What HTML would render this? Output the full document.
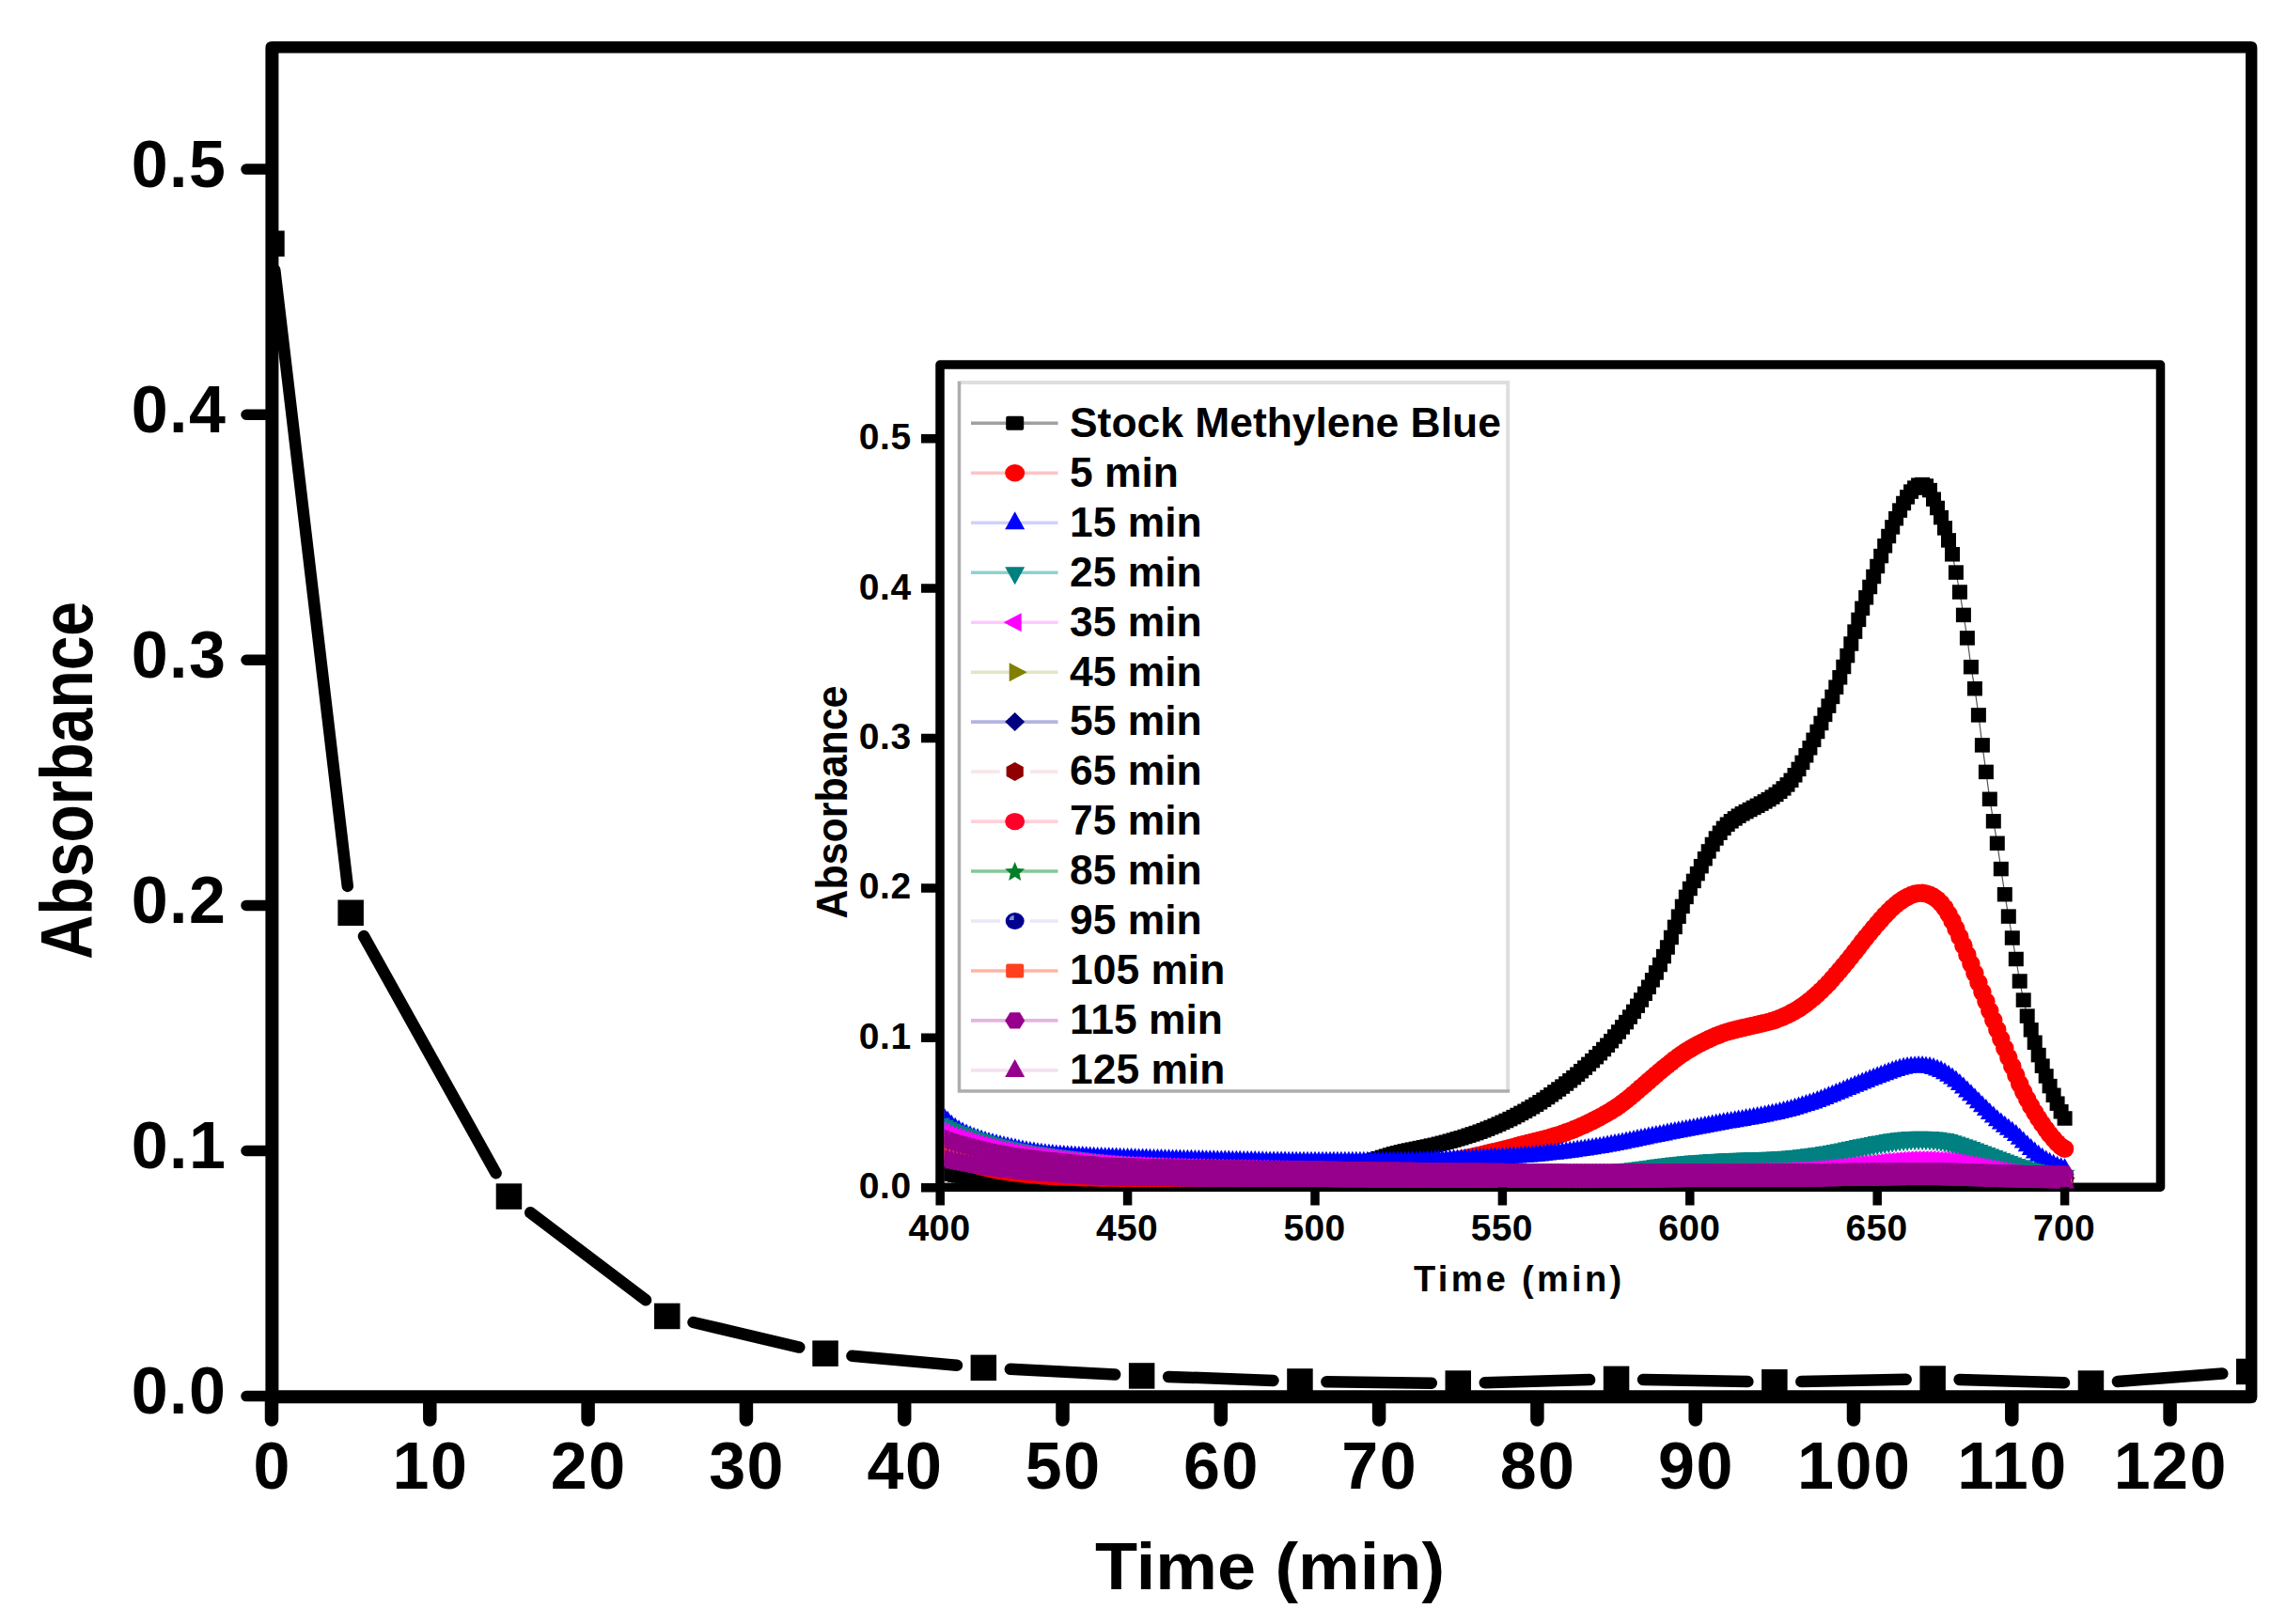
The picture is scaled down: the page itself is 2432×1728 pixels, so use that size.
<!DOCTYPE html>
<html><head><meta charset="utf-8"><title>Absorbance vs Time</title>
<style>html,body{margin:0;padding:0;background:#fff}svg text{font-family:"Liberation Sans",Arial,Helvetica,sans-serif;font-weight:bold;fill:#000}</style></head>
<body>
<svg width="2432" height="1728" viewBox="0 0 2432 1728" style="display:block">
<rect x="0" y="0" width="2432" height="1728" fill="#fff"/>
<defs><clipPath id="mc"><rect x="283" y="43" width="2118" height="1449"/></clipPath></defs>
<g>
<path d="M292.3 287.5L369.8 942.9M387.0 996.1L527.6 1248.2M564.2 1290.3L687.0 1383.3M737.5 1407.0L850.3 1433.6M906.4 1442.7L1018.0 1452.8M1074.8 1456.8L1186.2 1462.5M1243.1 1464.9L1354.5 1468.9M1411.4 1470.3L1522.8 1471.7M1579.7 1471.2L1691.1 1468.1M1748.0 1467.9L1859.4 1470.1M1916.3 1470.1L2027.7 1467.7M2084.6 1467.9L2196.0 1471.2M2252.9 1469.9L2364.3 1461.6" stroke="#000" stroke-width="12.5" stroke-linecap="round" fill="none" clip-path="url(#mc)"/>
<rect x="275.2" y="245.5" width="27.5" height="27.5" fill="#000" clip-path="url(#mc)"/>
<rect x="359.4" y="957.5" width="27.5" height="27.5" fill="#000" clip-path="url(#mc)"/>
<rect x="527.7" y="1259.3" width="27.5" height="27.5" fill="#000" clip-path="url(#mc)"/>
<rect x="696.0" y="1386.7" width="27.5" height="27.5" fill="#000" clip-path="url(#mc)"/>
<rect x="864.3" y="1426.4" width="27.5" height="27.5" fill="#000" clip-path="url(#mc)"/>
<rect x="1032.6" y="1441.6" width="27.5" height="27.5" fill="#000" clip-path="url(#mc)"/>
<rect x="1200.9" y="1450.2" width="27.5" height="27.5" fill="#000" clip-path="url(#mc)"/>
<rect x="1369.2" y="1456.2" width="27.5" height="27.5" fill="#000" clip-path="url(#mc)"/>
<rect x="1537.5" y="1458.3" width="27.5" height="27.5" fill="#000" clip-path="url(#mc)"/>
<rect x="1705.8" y="1453.6" width="27.5" height="27.5" fill="#000" clip-path="url(#mc)"/>
<rect x="1874.1" y="1457.0" width="27.5" height="27.5" fill="#000" clip-path="url(#mc)"/>
<rect x="2042.4" y="1453.3" width="27.5" height="27.5" fill="#000" clip-path="url(#mc)"/>
<rect x="2210.7" y="1458.3" width="27.5" height="27.5" fill="#000" clip-path="url(#mc)"/>
<rect x="2379.0" y="1445.7" width="27.5" height="27.5" fill="#000" clip-path="url(#mc)"/>
<path fill-rule="evenodd" fill="#000" d="M289.4 43.9H2394.4Q2401.4 43.9 2401.4 50.9V1486.2Q2401.4 1493.2 2394.4 1493.2H289.4Q282.4 1493.2 282.4 1486.2V50.9Q282.4 43.9 289.4 43.9ZM296.4 56.5V1479.2H2389.0V56.5Z"/>
<path d="M262 1485.6H289.3M262 1224.5H289.3M262 963.4H289.3M262 702.3H289.3M262 441.2H289.3M262 180.1H289.3" stroke="#000" stroke-width="11.5" stroke-linecap="round" fill="none"/>
<path d="M289.0 1489V1510.5M457.3 1489V1510.5M625.6 1489V1510.5M793.9 1489V1510.5M962.2 1489V1510.5M1130.5 1489V1510.5M1298.8 1489V1510.5M1467.1 1489V1510.5M1635.4 1489V1510.5M1803.7 1489V1510.5M1972.0 1489V1510.5M2140.3 1489V1510.5M2308.6 1489V1510.5" stroke="#000" stroke-width="14.5" stroke-linecap="round" fill="none"/>
<text x="241.5" y="1504.1" font-size="70" text-anchor="end" letter-spacing="1.5">0.0</text>
<text x="241.5" y="1243.0" font-size="70" text-anchor="end" letter-spacing="1.5">0.1</text>
<text x="241.5" y="981.9" font-size="70" text-anchor="end" letter-spacing="1.5">0.2</text>
<text x="241.5" y="720.8" font-size="70" text-anchor="end" letter-spacing="1.5">0.3</text>
<text x="241.5" y="459.7" font-size="70" text-anchor="end" letter-spacing="1.5">0.4</text>
<text x="241.5" y="198.6" font-size="70" text-anchor="end" letter-spacing="1.5">0.5</text>
<text x="289.7" y="1584" font-size="70" text-anchor="middle" letter-spacing="1.5">0</text>
<text x="458.0" y="1584" font-size="70" text-anchor="middle" letter-spacing="1.5">10</text>
<text x="626.3" y="1584" font-size="70" text-anchor="middle" letter-spacing="1.5">20</text>
<text x="794.6" y="1584" font-size="70" text-anchor="middle" letter-spacing="1.5">30</text>
<text x="962.9" y="1584" font-size="70" text-anchor="middle" letter-spacing="1.5">40</text>
<text x="1131.2" y="1584" font-size="70" text-anchor="middle" letter-spacing="1.5">50</text>
<text x="1299.5" y="1584" font-size="70" text-anchor="middle" letter-spacing="1.5">60</text>
<text x="1467.8" y="1584" font-size="70" text-anchor="middle" letter-spacing="1.5">70</text>
<text x="1636.1" y="1584" font-size="70" text-anchor="middle" letter-spacing="1.5">80</text>
<text x="1804.4" y="1584" font-size="70" text-anchor="middle" letter-spacing="1.5">90</text>
<text x="1972.7" y="1584" font-size="70" text-anchor="middle" letter-spacing="1.5">100</text>
<text x="2141.0" y="1584" font-size="70" text-anchor="middle" letter-spacing="1.5">110</text>
<text x="2309.3" y="1584" font-size="70" text-anchor="middle" letter-spacing="1.5">120</text>
<text transform="translate(98 1021) rotate(-90)" font-size="78" textLength="381" lengthAdjust="spacingAndGlyphs">Absorbance</text>
<text x="1165" y="1690.5" font-size="71" textLength="372" lengthAdjust="spacingAndGlyphs">Time (min)</text>
<defs><marker id="m0" markerUnits="userSpaceOnUse" markerWidth="26" markerHeight="26" viewBox="-13.0 -13.0 26 26" refX="0" refY="0" orient="0"><rect x="-8.0" y="-7.75" width="16.0" height="15.5" fill="#000"/></marker><marker id="m1" markerUnits="userSpaceOnUse" markerWidth="26" markerHeight="26" viewBox="-13.0 -13.0 26 26" refX="0" refY="0" orient="0"><circle r="9.7" fill="#ff0000"/></marker><marker id="m2" markerUnits="userSpaceOnUse" markerWidth="26" markerHeight="26" viewBox="-13.0 -13.0 26 26" refX="0" refY="0" orient="0"><polygon points="-10,6.5 10,6.5 0,-11.5" fill="#0000ff"/></marker><marker id="m3" markerUnits="userSpaceOnUse" markerWidth="26" markerHeight="26" viewBox="-13.0 -13.0 26 26" refX="0" refY="0" orient="0"><polygon points="-10.5,-7 10.5,-7 0,13.5" fill="#008080"/></marker><marker id="m4" markerUnits="userSpaceOnUse" markerWidth="26" markerHeight="26" viewBox="-13.0 -13.0 26 26" refX="0" refY="0" orient="0"><polygon points="6.5,-10 6.5,10 -11.5,0" fill="#ff00ff"/></marker><marker id="m5" markerUnits="userSpaceOnUse" markerWidth="26" markerHeight="26" viewBox="-13.0 -13.0 26 26" refX="0" refY="0" orient="0"><polygon points="-6.5,-10 -6.5,10 11.5,0" fill="#808000"/></marker><marker id="m6" markerUnits="userSpaceOnUse" markerWidth="26" markerHeight="26" viewBox="-13.0 -13.0 26 26" refX="0" refY="0" orient="0"><polygon points="-10,0 0,-10 10,0 0,10" fill="#000080"/></marker><marker id="m7" markerUnits="userSpaceOnUse" markerWidth="26" markerHeight="26" viewBox="-13.0 -13.0 26 26" refX="0" refY="0" orient="0"><polygon points="0.0,10.0 -8.7,5.0 -8.7,-5.0 -0.0,-10.0 8.7,-5.0 8.7,5.0" fill="#900000"/></marker><marker id="m8" markerUnits="userSpaceOnUse" markerWidth="26" markerHeight="26" viewBox="-13.0 -13.0 26 26" refX="0" refY="0" orient="0"><circle r="9.7" fill="#ff0028"/></marker><marker id="m9" markerUnits="userSpaceOnUse" markerWidth="26" markerHeight="26" viewBox="-13.0 -13.0 26 26" refX="0" refY="0" orient="0"><polygon points="0.0,-9.5 2.8,-2.9 10.0,-2.2 4.6,2.5 6.2,9.5 0.0,5.8 -6.2,9.5 -4.6,2.5 -10.0,-2.2 -2.8,-2.9" fill="#008028"/></marker><marker id="m10" markerUnits="userSpaceOnUse" markerWidth="26" markerHeight="26" viewBox="-13.0 -13.0 26 26" refX="0" refY="0" orient="0"><circle r="9.5" fill="#000090"/></marker><marker id="m11" markerUnits="userSpaceOnUse" markerWidth="26" markerHeight="26" viewBox="-13.0 -13.0 26 26" refX="0" refY="0" orient="0"><rect x="-8.0" y="-7.75" width="16.0" height="15.5" fill="#ff4020"/></marker><marker id="m12" markerUnits="userSpaceOnUse" markerWidth="26" markerHeight="26" viewBox="-13.0 -13.0 26 26" refX="0" refY="0" orient="0"><polygon points="10.0,0.0 5.0,8.7 -5.0,8.7 -10.0,0.0 -5.0,-8.7 5.0,-8.7" fill="#96008c"/></marker><marker id="m13" markerUnits="userSpaceOnUse" markerWidth="26" markerHeight="26" viewBox="-13.0 -13.0 26 26" refX="0" refY="0" orient="0"><polygon points="-10.5,7.5 10.5,7.5 0,-12.5" fill="#96008c"/></marker><clipPath id="ic"><rect x="1004.75" y="388" width="1294" height="880"/></clipPath></defs>
<rect x="1000.0" y="388.0" width="1298.5" height="875.2" fill="none" stroke="#000" stroke-width="9.5" stroke-linejoin="round"/>
<g fill="none" stroke="none" clip-path="url(#ic)">
<polyline points="1000.2,1247.4 1004.2,1247.9 1008.2,1248.7 1012.2,1249.4 1016.2,1250.2 1020.1,1250.9 1024.1,1251.6 1028.1,1252.3 1032.1,1252.9 1036.1,1253.5 1040.1,1254.0 1044.1,1254.5 1048.1,1254.9 1052.0,1255.4 1056.0,1255.8 1060.0,1256.3 1064.0,1256.7 1068.0,1257.0 1072.0,1257.4 1076.0,1257.8 1080.0,1258.1 1083.9,1258.4 1087.9,1258.7 1091.9,1259.0 1095.9,1259.2 1099.9,1259.5 1103.9,1259.7 1107.9,1260.0 1111.9,1260.2 1115.9,1260.4 1119.8,1260.6 1123.8,1260.9 1127.8,1261.1 1131.8,1261.3 1135.8,1261.4 1139.8,1261.6 1143.8,1261.7 1147.8,1261.8 1151.7,1261.9 1155.7,1262.0 1159.7,1262.0 1163.7,1262.0 1167.7,1262.0 1171.7,1262.0 1175.7,1262.0 1179.7,1262.0 1183.6,1262.0 1187.6,1262.0 1191.6,1262.0 1195.6,1262.0 1199.6,1262.0 1203.6,1262.0 1207.6,1262.0 1211.6,1261.9 1215.6,1261.8 1219.5,1261.8 1223.5,1261.7 1227.5,1261.5 1231.5,1261.4 1235.5,1261.3 1239.5,1261.1 1243.5,1261.0 1247.5,1260.8 1251.4,1260.6 1255.4,1260.4 1259.4,1260.2 1263.4,1260.0 1267.4,1259.8 1271.4,1259.6 1275.4,1259.4 1279.4,1259.1 1283.3,1258.9 1287.3,1258.7 1291.3,1258.5 1295.3,1258.3 1299.3,1258.0 1303.3,1257.8 1307.3,1257.6 1311.3,1257.4 1315.3,1257.2 1319.2,1256.9 1323.2,1256.7 1327.2,1256.5 1331.2,1256.2 1335.2,1255.9 1339.2,1255.7 1343.2,1255.4 1347.2,1255.1 1351.1,1254.8 1355.1,1254.5 1359.1,1254.2 1363.1,1253.9 1367.1,1253.5 1371.1,1253.1 1375.1,1252.8 1379.1,1252.4 1383.0,1252.0 1387.0,1251.5 1391.0,1251.1 1395.0,1250.6 1399.0,1250.1 1403.0,1249.5 1407.0,1248.9 1411.0,1248.1 1415.0,1247.3 1418.9,1246.4 1422.9,1245.4 1426.9,1244.4 1430.9,1243.4 1434.9,1242.3 1438.9,1241.3 1442.9,1240.2 1446.9,1239.1 1450.8,1237.9 1454.8,1236.6 1458.8,1235.3 1462.8,1234.0 1466.8,1232.7 1470.8,1231.4 1474.8,1230.2 1478.8,1229.0 1482.7,1227.8 1486.7,1226.8 1490.7,1225.8 1494.7,1224.9 1498.7,1224.0 1502.7,1223.2 1506.7,1222.4 1510.7,1221.6 1514.7,1220.8 1518.6,1220.0 1522.6,1219.1 1526.6,1218.3 1530.6,1217.3 1534.6,1216.3 1538.6,1215.3 1542.6,1214.2 1546.6,1213.1 1550.5,1211.9 1554.5,1210.8 1558.5,1209.5 1562.5,1208.2 1566.5,1206.9 1570.5,1205.6 1574.5,1204.2 1578.5,1202.7 1582.4,1201.1 1586.4,1199.5 1590.4,1197.9 1594.4,1196.1 1598.4,1194.3 1602.4,1192.5 1606.4,1190.6 1610.4,1188.6 1614.4,1186.5 1618.3,1184.4 1622.3,1182.3 1626.3,1180.0 1630.3,1177.7 1634.3,1175.3 1638.3,1172.8 1642.3,1170.2 1646.3,1167.5 1650.2,1164.8 1654.2,1161.9 1658.2,1159.0 1662.2,1156.1 1666.2,1153.0 1670.2,1149.8 1674.2,1146.6 1678.2,1143.2 1682.1,1139.7 1686.1,1136.1 1690.1,1132.4 1694.1,1128.6 1698.1,1124.7 1702.1,1120.7 1706.1,1116.5 1710.1,1112.2 1714.1,1107.7 1718.0,1103.0 1722.0,1098.0 1726.0,1092.9 1730.0,1087.6 1734.0,1082.1 1738.0,1076.4 1742.0,1070.3 1746.0,1064.0 1749.9,1057.3 1753.9,1050.3 1757.9,1042.8 1761.9,1034.9 1765.9,1026.5 1769.9,1017.6 1773.9,1008.0 1777.9,997.5 1781.8,986.4 1785.8,975.2 1789.8,964.4 1793.8,954.4 1797.8,945.5 1801.8,937.4 1805.8,929.6 1809.8,921.7 1813.8,913.7 1817.7,905.9 1821.7,898.5 1825.7,892.0 1829.7,886.2 1833.7,881.3 1837.7,877.2 1841.7,873.8 1845.7,870.9 1849.6,868.2 1853.6,865.8 1857.6,863.6 1861.6,861.5 1865.6,859.4 1869.6,857.3 1873.6,855.1 1877.6,852.9 1881.5,850.6 1885.5,848.1 1889.5,845.4 1893.5,842.3 1897.5,838.9 1901.5,834.9 1905.5,830.3 1909.5,824.8 1913.5,818.4 1917.4,811.4 1921.4,803.8 1925.4,795.8 1929.4,787.3 1933.4,778.5 1937.4,769.5 1941.4,760.4 1945.4,751.1 1949.3,741.4 1953.3,731.2 1957.3,720.8 1961.3,709.5 1965.3,697.6 1969.3,685.0 1973.3,672.1 1977.3,659.4 1981.2,647.3 1985.2,635.8 1989.2,624.5 1993.2,613.5 1997.2,602.5 2001.2,591.6 2005.2,580.8 2009.2,570.5 2013.2,560.9 2017.1,551.7 2021.1,543.1 2025.1,535.5 2029.1,528.9 2033.1,523.1 2037.1,519.1 2041.1,516.2 2045.1,515.6 2049.0,517.0 2053.0,521.6 2057.0,531.2 2061.0,540.5 2065.0,550.6 2069.0,561.9 2073.0,574.9 2077.0,589.8 2080.9,609.1 2084.9,630.0 2088.9,654.4 2092.9,678.9 2096.9,709.7 2100.9,732.7 2104.9,760.9 2108.9,792.9 2112.9,821.4 2116.8,850.3 2120.8,873.8 2124.8,897.3 2128.8,924.6 2132.8,951.7 2136.8,975.1 2140.8,998.0 2144.8,1020.5 2148.7,1044.0 2152.7,1064.1 2156.7,1081.1 2160.7,1095.8 2164.7,1109.3 2168.7,1122.6 2172.7,1134.2 2176.7,1145.0 2180.6,1155.6 2184.6,1165.3 2188.6,1174.2 2192.6,1182.8 2196.6,1190.0" marker-start="url(#m0)" marker-mid="url(#m0)" marker-end="url(#m0)" stroke="#555" stroke-width="1.2"/>
<polyline points="1000.2,1216.1 1004.2,1218.8 1008.2,1222.2 1012.2,1225.6 1016.2,1228.5 1020.1,1231.0 1024.1,1233.3 1028.1,1235.3 1032.1,1237.0 1036.1,1238.6 1040.1,1239.9 1044.1,1241.1 1048.1,1242.1 1052.0,1243.1 1056.0,1244.0 1060.0,1244.8 1064.0,1245.6 1068.0,1246.3 1072.0,1246.9 1076.0,1247.5 1080.0,1248.0 1083.9,1248.4 1087.9,1248.9 1091.9,1249.3 1095.9,1249.7 1099.9,1250.1 1103.9,1250.4 1107.9,1250.7 1111.9,1251.0 1115.9,1251.3 1119.8,1251.5 1123.8,1251.7 1127.8,1251.9 1131.8,1252.1 1135.8,1252.2 1139.8,1252.3 1143.8,1252.5 1147.8,1252.6 1151.7,1252.7 1155.7,1252.8 1159.7,1252.9 1163.7,1253.0 1167.7,1253.1 1171.7,1253.2 1175.7,1253.3 1179.7,1253.3 1183.6,1253.4 1187.6,1253.4 1191.6,1253.5 1195.6,1253.5 1199.6,1253.5 1203.6,1253.5 1207.6,1253.5 1211.6,1253.5 1215.6,1253.5 1219.5,1253.5 1223.5,1253.5 1227.5,1253.5 1231.5,1253.5 1235.5,1253.5 1239.5,1253.5 1243.5,1253.5 1247.5,1253.5 1251.4,1253.5 1255.4,1253.5 1259.4,1253.5 1263.4,1253.5 1267.4,1253.5 1271.4,1253.5 1275.4,1253.5 1279.4,1253.5 1283.3,1253.5 1287.3,1253.5 1291.3,1253.5 1295.3,1253.5 1299.3,1253.5 1303.3,1253.5 1307.3,1253.5 1311.3,1253.5 1315.3,1253.5 1319.2,1253.4 1323.2,1253.4 1327.2,1253.4 1331.2,1253.3 1335.2,1253.3 1339.2,1253.2 1343.2,1253.2 1347.2,1253.1 1351.1,1253.0 1355.1,1253.0 1359.1,1252.9 1363.1,1252.8 1367.1,1252.8 1371.1,1252.7 1375.1,1252.6 1379.1,1252.5 1383.0,1252.4 1387.0,1252.3 1391.0,1252.2 1395.0,1252.1 1399.0,1252.0 1403.0,1251.9 1407.0,1251.8 1411.0,1251.6 1415.0,1251.4 1418.9,1251.2 1422.9,1251.0 1426.9,1250.7 1430.9,1250.4 1434.9,1250.1 1438.9,1249.8 1442.9,1249.5 1446.9,1249.2 1450.8,1248.8 1454.8,1248.4 1458.8,1248.0 1462.8,1247.6 1466.8,1247.2 1470.8,1246.8 1474.8,1246.4 1478.8,1246.0 1482.7,1245.5 1486.7,1245.1 1490.7,1244.6 1494.7,1244.1 1498.7,1243.5 1502.7,1242.9 1506.7,1242.3 1510.7,1241.6 1514.7,1240.9 1518.6,1240.2 1522.6,1239.5 1526.6,1238.8 1530.6,1238.1 1534.6,1237.3 1538.6,1236.6 1542.6,1235.8 1546.6,1235.0 1550.5,1234.2 1554.5,1233.4 1558.5,1232.6 1562.5,1231.7 1566.5,1230.9 1570.5,1230.0 1574.5,1229.1 1578.5,1228.2 1582.4,1227.3 1586.4,1226.3 1590.4,1225.4 1594.4,1224.4 1598.4,1223.4 1602.4,1222.4 1606.4,1221.4 1610.4,1220.4 1614.4,1219.3 1618.3,1218.3 1622.3,1217.3 1626.3,1216.3 1630.3,1215.3 1634.3,1214.2 1638.3,1213.2 1642.3,1212.2 1646.3,1211.1 1650.2,1210.0 1654.2,1208.8 1658.2,1207.6 1662.2,1206.2 1666.2,1204.8 1670.2,1203.4 1674.2,1201.8 1678.2,1200.1 1682.1,1198.4 1686.1,1196.6 1690.1,1194.7 1694.1,1192.8 1698.1,1190.7 1702.1,1188.7 1706.1,1186.5 1710.1,1184.2 1714.1,1181.8 1718.0,1179.3 1722.0,1176.6 1726.0,1173.7 1730.0,1170.7 1734.0,1167.5 1738.0,1164.2 1742.0,1160.7 1746.0,1157.2 1749.9,1153.8 1753.9,1150.3 1757.9,1146.9 1761.9,1143.4 1765.9,1140.0 1769.9,1136.7 1773.9,1133.5 1777.9,1130.3 1781.8,1127.2 1785.8,1124.2 1789.8,1121.4 1793.8,1118.7 1797.8,1116.3 1801.8,1113.9 1805.8,1111.7 1809.8,1109.6 1813.8,1107.6 1817.7,1105.8 1821.7,1104.0 1825.7,1102.3 1829.7,1100.7 1833.7,1099.2 1837.7,1097.9 1841.7,1096.7 1845.7,1095.7 1849.6,1094.7 1853.6,1093.8 1857.6,1092.9 1861.6,1092.0 1865.6,1091.1 1869.6,1090.2 1873.6,1089.3 1877.6,1088.4 1881.5,1087.4 1885.5,1086.3 1889.5,1085.0 1893.5,1083.4 1897.5,1081.7 1901.5,1079.9 1905.5,1077.8 1909.5,1075.6 1913.5,1073.3 1917.4,1070.6 1921.4,1067.8 1925.4,1064.7 1929.4,1061.3 1933.4,1057.8 1937.4,1054.1 1941.4,1050.2 1945.4,1046.1 1949.3,1041.7 1953.3,1037.1 1957.3,1032.4 1961.3,1027.6 1965.3,1022.8 1969.3,1017.8 1973.3,1012.7 1977.3,1007.6 1981.2,1002.4 1985.2,997.4 1989.2,992.5 1993.2,987.7 1997.2,983.0 2001.2,978.4 2005.2,973.9 2009.2,969.8 2013.2,965.9 2017.1,962.5 2021.1,959.4 2025.1,956.7 2029.1,954.4 2033.1,952.5 2037.1,951.2 2041.1,950.4 2045.1,950.3 2049.0,950.9 2053.0,952.2 2057.0,954.3 2061.0,957.2 2065.0,961.2 2069.0,966.2 2073.0,972.5 2077.0,979.9 2080.9,988.1 2084.9,996.9 2088.9,1006.2 2092.9,1015.8 2096.9,1025.6 2100.9,1035.6 2104.9,1045.6 2108.9,1055.6 2112.9,1065.6 2116.8,1075.6 2120.8,1085.6 2124.8,1095.6 2128.8,1105.5 2132.8,1115.4 2136.8,1125.1 2140.8,1134.7 2144.8,1144.1 2148.7,1153.3 2152.7,1161.8 2156.7,1169.7 2160.7,1176.9 2164.7,1183.6 2168.7,1190.0 2172.7,1196.0 2176.7,1201.6 2180.6,1206.9 2184.6,1211.7 2188.6,1216.2 2192.6,1219.9 2196.6,1222.4" marker-start="url(#m1)" marker-mid="url(#m1)" marker-end="url(#m1)"/>
<polyline points="1000.2,1186.0 1004.2,1189.3 1008.2,1193.3 1012.2,1197.2 1016.2,1200.3 1020.1,1202.8 1024.1,1205.0 1028.1,1207.0 1032.1,1208.7 1036.1,1210.4 1040.1,1211.8 1044.1,1213.2 1048.1,1214.5 1052.0,1215.7 1056.0,1216.8 1060.0,1217.8 1064.0,1218.7 1068.0,1219.7 1072.0,1220.6 1076.0,1221.5 1080.0,1222.3 1083.9,1223.2 1087.9,1224.0 1091.9,1224.7 1095.9,1225.5 1099.9,1226.1 1103.9,1226.8 1107.9,1227.3 1111.9,1227.8 1115.9,1228.2 1119.8,1228.6 1123.8,1228.9 1127.8,1229.2 1131.8,1229.5 1135.8,1229.7 1139.8,1230.0 1143.8,1230.2 1147.8,1230.4 1151.7,1230.6 1155.7,1230.8 1159.7,1231.0 1163.7,1231.2 1167.7,1231.4 1171.7,1231.5 1175.7,1231.7 1179.7,1231.8 1183.6,1232.0 1187.6,1232.1 1191.6,1232.2 1195.6,1232.4 1199.6,1232.5 1203.6,1232.6 1207.6,1232.8 1211.6,1232.9 1215.6,1233.0 1219.5,1233.1 1223.5,1233.3 1227.5,1233.4 1231.5,1233.5 1235.5,1233.6 1239.5,1233.7 1243.5,1233.8 1247.5,1233.9 1251.4,1234.0 1255.4,1234.1 1259.4,1234.2 1263.4,1234.3 1267.4,1234.3 1271.4,1234.4 1275.4,1234.5 1279.4,1234.6 1283.3,1234.7 1287.3,1234.7 1291.3,1234.8 1295.3,1234.9 1299.3,1235.0 1303.3,1235.0 1307.3,1235.1 1311.3,1235.2 1315.3,1235.3 1319.2,1235.3 1323.2,1235.4 1327.2,1235.5 1331.2,1235.6 1335.2,1235.6 1339.2,1235.7 1343.2,1235.8 1347.2,1235.9 1351.1,1235.9 1355.1,1236.0 1359.1,1236.0 1363.1,1236.1 1367.1,1236.1 1371.1,1236.2 1375.1,1236.2 1379.1,1236.2 1383.0,1236.3 1387.0,1236.3 1391.0,1236.3 1395.0,1236.3 1399.0,1236.3 1403.0,1236.3 1407.0,1236.3 1411.0,1236.3 1415.0,1236.3 1418.9,1236.3 1422.9,1236.3 1426.9,1236.3 1430.9,1236.2 1434.9,1236.2 1438.9,1236.2 1442.9,1236.2 1446.9,1236.2 1450.8,1236.2 1454.8,1236.2 1458.8,1236.1 1462.8,1236.1 1466.8,1236.1 1470.8,1236.1 1474.8,1236.1 1478.8,1236.0 1482.7,1236.0 1486.7,1236.0 1490.7,1236.0 1494.7,1235.9 1498.7,1235.8 1502.7,1235.8 1506.7,1235.7 1510.7,1235.6 1514.7,1235.4 1518.6,1235.3 1522.6,1235.2 1526.6,1235.0 1530.6,1234.8 1534.6,1234.7 1538.6,1234.5 1542.6,1234.3 1546.6,1234.1 1550.5,1233.9 1554.5,1233.7 1558.5,1233.6 1562.5,1233.4 1566.5,1233.2 1570.5,1233.0 1574.5,1232.8 1578.5,1232.7 1582.4,1232.5 1586.4,1232.3 1590.4,1232.1 1594.4,1231.9 1598.4,1231.7 1602.4,1231.5 1606.4,1231.3 1610.4,1231.1 1614.4,1230.9 1618.3,1230.6 1622.3,1230.3 1626.3,1230.0 1630.3,1229.7 1634.3,1229.3 1638.3,1228.9 1642.3,1228.5 1646.3,1228.1 1650.2,1227.6 1654.2,1227.2 1658.2,1226.7 1662.2,1226.2 1666.2,1225.7 1670.2,1225.2 1674.2,1224.7 1678.2,1224.1 1682.1,1223.5 1686.1,1222.9 1690.1,1222.3 1694.1,1221.7 1698.1,1221.0 1702.1,1220.4 1706.1,1219.7 1710.1,1219.0 1714.1,1218.3 1718.0,1217.5 1722.0,1216.7 1726.0,1215.9 1730.0,1215.1 1734.0,1214.2 1738.0,1213.4 1742.0,1212.6 1746.0,1211.7 1749.9,1210.9 1753.9,1210.1 1757.9,1209.3 1761.9,1208.5 1765.9,1207.7 1769.9,1206.9 1773.9,1206.1 1777.9,1205.3 1781.8,1204.5 1785.8,1203.7 1789.8,1203.0 1793.8,1202.2 1797.8,1201.4 1801.8,1200.7 1805.8,1199.9 1809.8,1199.2 1813.8,1198.5 1817.7,1197.7 1821.7,1197.0 1825.7,1196.3 1829.7,1195.6 1833.7,1194.8 1837.7,1194.1 1841.7,1193.5 1845.7,1192.8 1849.6,1192.1 1853.6,1191.4 1857.6,1190.6 1861.6,1189.9 1865.6,1189.2 1869.6,1188.4 1873.6,1187.7 1877.6,1186.9 1881.5,1186.1 1885.5,1185.3 1889.5,1184.4 1893.5,1183.5 1897.5,1182.5 1901.5,1181.5 1905.5,1180.4 1909.5,1179.3 1913.5,1178.1 1917.4,1176.8 1921.4,1175.6 1925.4,1174.2 1929.4,1172.9 1933.4,1171.4 1937.4,1170.0 1941.4,1168.4 1945.4,1166.8 1949.3,1165.2 1953.3,1163.5 1957.3,1161.9 1961.3,1160.2 1965.3,1158.6 1969.3,1157.0 1973.3,1155.3 1977.3,1153.7 1981.2,1152.1 1985.2,1150.4 1989.2,1148.8 1993.2,1147.3 1997.2,1145.7 2001.2,1144.2 2005.2,1142.7 2009.2,1141.2 2013.2,1139.7 2017.1,1138.4 2021.1,1137.3 2025.1,1136.3 2029.1,1135.6 2033.1,1135.1 2037.1,1134.7 2041.1,1134.4 2045.1,1134.5 2049.0,1134.9 2053.0,1135.6 2057.0,1136.6 2061.0,1137.9 2065.0,1139.6 2069.0,1141.7 2073.0,1144.2 2077.0,1147.1 2080.9,1150.1 2084.9,1153.5 2088.9,1157.1 2092.9,1160.9 2096.9,1164.7 2100.9,1168.7 2104.9,1172.7 2108.9,1176.7 2112.9,1180.6 2116.8,1184.4 2120.8,1188.1 2124.8,1191.7 2128.8,1195.1 2132.8,1198.2 2136.8,1201.2 2140.8,1204.2 2144.8,1207.5 2148.7,1211.2 2152.7,1215.1 2156.7,1218.8 2160.7,1222.5 2164.7,1226.0 2168.7,1229.3 2172.7,1232.2 2176.7,1234.9 2180.6,1237.2 2184.6,1239.3 2188.6,1241.2 2192.6,1242.7 2196.6,1243.8" marker-start="url(#m2)" marker-mid="url(#m2)" marker-end="url(#m2)"/>
<polyline points="1000.2,1196.8 1004.2,1198.8 1008.2,1200.8 1012.2,1202.6 1016.2,1204.2 1020.1,1205.8 1024.1,1207.2 1028.1,1208.6 1032.1,1210.0 1036.1,1211.4 1040.1,1212.7 1044.1,1214.0 1048.1,1215.3 1052.0,1216.5 1056.0,1217.7 1060.0,1218.7 1064.0,1219.7 1068.0,1220.7 1072.0,1221.6 1076.0,1222.5 1080.0,1223.4 1083.9,1224.2 1087.9,1225.0 1091.9,1225.7 1095.9,1226.4 1099.9,1227.0 1103.9,1227.6 1107.9,1228.2 1111.9,1228.8 1115.9,1229.4 1119.8,1229.9 1123.8,1230.5 1127.8,1231.1 1131.8,1231.6 1135.8,1232.1 1139.8,1232.6 1143.8,1233.1 1147.8,1233.6 1151.7,1234.1 1155.7,1234.5 1159.7,1235.0 1163.7,1235.4 1167.7,1235.8 1171.7,1236.1 1175.7,1236.5 1179.7,1236.8 1183.6,1237.2 1187.6,1237.5 1191.6,1237.7 1195.6,1238.0 1199.6,1238.2 1203.6,1238.4 1207.6,1238.6 1211.6,1238.8 1215.6,1239.0 1219.5,1239.2 1223.5,1239.3 1227.5,1239.5 1231.5,1239.7 1235.5,1239.8 1239.5,1240.0 1243.5,1240.1 1247.5,1240.3 1251.4,1240.4 1255.4,1240.5 1259.4,1240.7 1263.4,1240.8 1267.4,1240.9 1271.4,1241.0 1275.4,1241.2 1279.4,1241.3 1283.3,1241.4 1287.3,1241.5 1291.3,1241.6 1295.3,1241.7 1299.3,1241.8 1303.3,1241.9 1307.3,1242.0 1311.3,1242.1 1315.3,1242.2 1319.2,1242.3 1323.2,1242.4 1327.2,1242.5 1331.2,1242.6 1335.2,1242.7 1339.2,1242.8 1343.2,1242.9 1347.2,1243.0 1351.1,1243.1 1355.1,1243.2 1359.1,1243.3 1363.1,1243.4 1367.1,1243.6 1371.1,1243.7 1375.1,1243.8 1379.1,1243.9 1383.0,1244.0 1387.0,1244.2 1391.0,1244.3 1395.0,1244.4 1399.0,1244.0 1403.0,1244.1 1407.0,1244.3 1411.0,1244.4 1415.0,1244.5 1418.9,1244.6 1422.9,1244.8 1426.9,1244.9 1430.9,1245.0 1434.9,1245.1 1438.9,1245.3 1442.9,1245.4 1446.9,1245.5 1450.8,1245.6 1454.8,1245.7 1458.8,1245.9 1462.8,1246.0 1466.8,1246.1 1470.8,1246.2 1474.8,1246.4 1478.8,1246.5 1482.7,1246.6 1486.7,1246.8 1490.7,1246.9 1494.7,1247.0 1498.7,1247.1 1502.7,1247.2 1506.7,1247.3 1510.7,1247.4 1514.7,1247.5 1518.6,1247.6 1522.6,1247.7 1526.6,1247.8 1530.6,1247.9 1534.6,1248.0 1538.6,1248.1 1542.6,1248.1 1546.6,1248.2 1550.5,1248.3 1554.5,1248.4 1558.5,1248.4 1562.5,1248.5 1566.5,1248.6 1570.5,1248.6 1574.5,1248.7 1578.5,1248.8 1582.4,1248.8 1586.4,1248.9 1590.4,1248.9 1594.4,1248.9 1598.4,1249.0 1602.4,1249.0 1606.4,1249.0 1610.4,1249.1 1614.4,1249.1 1618.3,1249.1 1622.3,1249.1 1626.3,1249.1 1630.3,1249.1 1634.3,1249.2 1638.3,1249.2 1642.3,1249.2 1646.3,1249.2 1650.2,1249.1 1654.2,1249.1 1658.2,1249.1 1662.2,1249.0 1666.2,1248.9 1670.2,1248.8 1674.2,1248.7 1678.2,1248.6 1682.1,1248.4 1686.1,1248.3 1690.1,1248.1 1694.1,1247.9 1698.1,1247.7 1702.1,1247.5 1706.1,1247.2 1710.1,1246.9 1714.1,1246.6 1718.0,1246.3 1722.0,1246.0 1726.0,1245.6 1730.0,1245.2 1734.0,1244.7 1738.0,1244.2 1742.0,1243.7 1746.0,1243.2 1749.9,1242.7 1753.9,1242.2 1757.9,1241.7 1761.9,1241.1 1765.9,1240.6 1769.9,1240.1 1773.9,1239.6 1777.9,1239.1 1781.8,1238.6 1785.8,1238.2 1789.8,1237.7 1793.8,1237.3 1797.8,1237.0 1801.8,1236.6 1805.8,1236.3 1809.8,1236.0 1813.8,1235.7 1817.7,1235.4 1821.7,1235.1 1825.7,1234.9 1829.7,1234.7 1833.7,1234.5 1837.7,1234.3 1841.7,1234.1 1845.7,1234.0 1849.6,1233.8 1853.6,1233.7 1857.6,1233.6 1861.6,1233.5 1865.6,1233.3 1869.6,1233.2 1873.6,1233.1 1877.6,1233.0 1881.5,1232.8 1885.5,1232.7 1889.5,1232.5 1893.5,1232.3 1897.5,1232.0 1901.5,1231.7 1905.5,1231.4 1909.5,1231.1 1913.5,1230.7 1917.4,1230.3 1921.4,1229.8 1925.4,1229.3 1929.4,1228.8 1933.4,1228.2 1937.4,1227.7 1941.4,1227.0 1945.4,1226.4 1949.3,1225.7 1953.3,1224.9 1957.3,1224.2 1961.3,1223.4 1965.3,1222.6 1969.3,1221.8 1973.3,1221.0 1977.3,1220.1 1981.2,1219.3 1985.2,1218.5 1989.2,1217.7 1993.2,1216.9 1997.2,1216.1 2001.2,1215.4 2005.2,1214.7 2009.2,1214.0 2013.2,1213.3 2017.1,1212.8 2021.1,1212.3 2025.1,1211.8 2029.1,1211.5 2033.1,1211.1 2037.1,1210.9 2041.1,1210.8 2045.1,1210.8 2049.0,1210.9 2053.0,1211.1 2057.0,1211.4 2061.0,1211.8 2065.0,1212.4 2069.0,1213.1 2073.0,1214.1 2077.0,1215.2 2080.9,1216.4 2084.9,1217.8 2088.9,1219.2 2092.9,1220.6 2096.9,1222.1 2100.9,1223.6 2104.9,1225.1 2108.9,1226.6 2112.9,1228.1 2116.8,1229.6 2120.8,1231.1 2124.8,1232.6 2128.8,1234.1 2132.8,1235.6 2136.8,1237.0 2140.8,1238.5 2144.8,1239.9 2148.7,1241.2 2152.7,1242.5 2156.7,1243.7 2160.7,1244.8 2164.7,1245.8 2168.7,1246.7 2172.7,1247.6 2176.7,1248.5 2180.6,1249.3 2184.6,1250.0 2188.6,1250.7 2192.6,1251.3 2196.6,1251.7" marker-start="url(#m3)" marker-mid="url(#m3)" marker-end="url(#m3)"/>
<polyline points="1000.2,1203.1 1004.2,1204.9 1008.2,1206.7 1012.2,1208.3 1016.2,1209.7 1020.1,1211.1 1024.1,1212.4 1028.1,1213.6 1032.1,1214.9 1036.1,1216.1 1040.1,1217.3 1044.1,1218.4 1048.1,1219.5 1052.0,1220.6 1056.0,1221.6 1060.0,1222.6 1064.0,1223.4 1068.0,1224.3 1072.0,1225.1 1076.0,1225.9 1080.0,1226.7 1083.9,1227.4 1087.9,1228.1 1091.9,1228.7 1095.9,1229.3 1099.9,1229.9 1103.9,1230.4 1107.9,1231.0 1111.9,1231.5 1115.9,1232.0 1119.8,1232.5 1123.8,1233.0 1127.8,1233.5 1131.8,1233.9 1135.8,1234.4 1139.8,1234.9 1143.8,1235.3 1147.8,1235.7 1151.7,1236.1 1155.7,1236.5 1159.7,1236.9 1163.7,1237.3 1167.7,1237.6 1171.7,1238.0 1175.7,1238.3 1179.7,1238.6 1183.6,1238.9 1187.6,1239.1 1191.6,1239.4 1195.6,1239.6 1199.6,1239.8 1203.6,1240.0 1207.6,1240.1 1211.6,1240.3 1215.6,1240.5 1219.5,1240.6 1223.5,1240.8 1227.5,1240.9 1231.5,1241.1 1235.5,1241.2 1239.5,1241.3 1243.5,1241.5 1247.5,1241.6 1251.4,1241.7 1255.4,1241.8 1259.4,1241.9 1263.4,1242.0 1267.4,1242.1 1271.4,1242.2 1275.4,1242.3 1279.4,1242.4 1283.3,1242.5 1287.3,1242.6 1291.3,1242.7 1295.3,1242.8 1299.3,1242.9 1303.3,1243.0 1307.3,1243.1 1311.3,1243.2 1315.3,1243.2 1319.2,1243.3 1323.2,1243.4 1327.2,1243.5 1331.2,1243.6 1335.2,1243.7 1339.2,1243.8 1343.2,1243.8 1347.2,1243.9 1351.1,1244.0 1355.1,1244.1 1359.1,1244.2 1363.1,1244.3 1367.1,1244.4 1371.1,1244.5 1375.1,1244.6 1379.1,1244.7 1383.0,1244.9 1387.0,1245.0 1391.0,1245.1 1395.0,1245.2 1399.0,1245.0 1403.0,1245.2 1407.0,1245.3 1411.0,1245.4 1415.0,1245.6 1418.9,1245.7 1422.9,1245.8 1426.9,1246.0 1430.9,1246.1 1434.9,1246.3 1438.9,1246.4 1442.9,1246.6 1446.9,1246.7 1450.8,1246.9 1454.8,1247.0 1458.8,1247.2 1462.8,1247.4 1466.8,1247.5 1470.8,1247.7 1474.8,1247.9 1478.8,1248.0 1482.7,1248.2 1486.7,1248.4 1490.7,1248.6 1494.7,1248.7 1498.7,1248.9 1502.7,1249.1 1506.7,1249.2 1510.7,1249.4 1514.7,1249.5 1518.6,1249.7 1522.6,1249.9 1526.6,1250.0 1530.6,1250.2 1534.6,1250.4 1538.6,1250.5 1542.6,1250.7 1546.6,1250.8 1550.5,1251.0 1554.5,1251.2 1558.5,1251.3 1562.5,1251.5 1566.5,1251.6 1570.5,1251.8 1574.5,1251.9 1578.5,1252.0 1582.4,1252.2 1586.4,1252.3 1590.4,1252.5 1594.4,1252.6 1598.4,1252.7 1602.4,1252.8 1606.4,1253.0 1610.4,1253.1 1614.4,1253.2 1618.3,1253.3 1622.3,1253.4 1626.3,1253.5 1630.3,1253.6 1634.3,1253.8 1638.3,1253.9 1642.3,1253.9 1646.3,1254.0 1650.2,1254.1 1654.2,1254.2 1658.2,1254.3 1662.2,1254.3 1666.2,1254.3 1670.2,1254.4 1674.2,1254.4 1678.2,1254.4 1682.1,1254.4 1686.1,1254.3 1690.1,1254.3 1694.1,1254.3 1698.1,1254.2 1702.1,1254.1 1706.1,1254.1 1710.1,1254.0 1714.1,1253.8 1718.0,1253.7 1722.0,1253.5 1726.0,1253.4 1730.0,1253.2 1734.0,1252.9 1738.0,1252.7 1742.0,1252.4 1746.0,1252.2 1749.9,1251.9 1753.9,1251.6 1757.9,1251.3 1761.9,1251.0 1765.9,1250.7 1769.9,1250.4 1773.9,1250.2 1777.9,1249.9 1781.8,1249.6 1785.8,1249.4 1789.8,1249.1 1793.8,1248.9 1797.8,1248.7 1801.8,1248.5 1805.8,1248.3 1809.8,1248.2 1813.8,1248.0 1817.7,1247.9 1821.7,1247.7 1825.7,1247.6 1829.7,1247.5 1833.7,1247.4 1837.7,1247.3 1841.7,1247.2 1845.7,1247.1 1849.6,1247.1 1853.6,1247.0 1857.6,1246.9 1861.6,1246.9 1865.6,1246.8 1869.6,1246.8 1873.6,1246.7 1877.6,1246.6 1881.5,1246.6 1885.5,1246.5 1889.5,1246.4 1893.5,1246.3 1897.5,1246.1 1901.5,1246.0 1905.5,1245.8 1909.5,1245.6 1913.5,1245.4 1917.4,1245.2 1921.4,1244.9 1925.4,1244.6 1929.4,1244.3 1933.4,1244.0 1937.4,1243.7 1941.4,1243.3 1945.4,1242.9 1949.3,1242.5 1953.3,1242.1 1957.3,1241.7 1961.3,1241.2 1965.3,1240.8 1969.3,1240.3 1973.3,1239.8 1977.3,1239.3 1981.2,1238.8 1985.2,1238.4 1989.2,1237.9 1993.2,1237.4 1997.2,1237.0 2001.2,1236.6 2005.2,1236.1 2009.2,1235.7 2013.2,1235.4 2017.1,1235.1 2021.1,1234.8 2025.1,1234.5 2029.1,1234.3 2033.1,1234.1 2037.1,1234.0 2041.1,1233.9 2045.1,1233.9 2049.0,1233.9 2053.0,1234.0 2057.0,1234.2 2061.0,1234.4 2065.0,1234.7 2069.0,1235.1 2073.0,1235.6 2077.0,1236.1 2080.9,1236.8 2084.9,1237.5 2088.9,1238.2 2092.9,1239.0 2096.9,1239.7 2100.9,1240.5 2104.9,1241.3 2108.9,1242.0 2112.9,1242.8 2116.8,1243.5 2120.8,1244.3 2124.8,1245.0 2128.8,1245.8 2132.8,1246.5 2136.8,1247.3 2140.8,1248.0 2144.8,1248.7 2148.7,1249.4 2152.7,1250.1 2156.7,1250.7 2160.7,1251.2 2164.7,1251.7 2168.7,1252.2 2172.7,1252.6 2176.7,1253.1 2180.6,1253.5 2184.6,1253.9 2188.6,1254.3 2192.6,1254.6 2196.6,1254.8" marker-start="url(#m4)" marker-mid="url(#m4)" marker-end="url(#m4)"/>
<polyline points="1000.2,1215.9 1004.2,1217.3 1008.2,1218.7 1012.2,1219.9 1016.2,1221.0 1020.1,1222.1 1024.1,1223.1 1028.1,1224.1 1032.1,1225.1 1036.1,1226.0 1040.1,1226.9 1044.1,1227.8 1048.1,1228.7 1052.0,1229.6 1056.0,1230.4 1060.0,1231.1 1064.0,1231.8 1068.0,1232.4 1072.0,1233.1 1076.0,1233.7 1080.0,1234.3 1083.9,1234.9 1087.9,1235.4 1091.9,1235.9 1095.9,1236.4 1099.9,1236.8 1103.9,1237.2 1107.9,1237.7 1111.9,1238.1 1115.9,1238.5 1119.8,1238.9 1123.8,1239.3 1127.8,1239.7 1131.8,1240.1 1135.8,1240.4 1139.8,1240.8 1143.8,1241.1 1147.8,1241.5 1151.7,1241.8 1155.7,1242.1 1159.7,1242.4 1163.7,1242.7 1167.7,1243.0 1171.7,1243.3 1175.7,1243.5 1179.7,1243.7 1183.6,1243.9 1187.6,1244.1 1191.6,1244.3 1195.6,1244.4 1199.6,1244.6 1203.6,1244.7 1207.6,1244.8 1211.6,1244.9 1215.6,1245.0 1219.5,1245.1 1223.5,1245.2 1227.5,1245.3 1231.5,1245.4 1235.5,1245.5 1239.5,1245.5 1243.5,1245.6 1247.5,1245.7 1251.4,1245.8 1255.4,1245.8 1259.4,1245.9 1263.4,1246.0 1267.4,1246.0 1271.4,1246.1 1275.4,1246.2 1279.4,1246.2 1283.3,1246.3 1287.3,1246.4 1291.3,1246.4 1295.3,1246.5 1299.3,1246.5 1303.3,1246.6 1307.3,1246.6 1311.3,1246.7 1315.3,1246.7 1319.2,1246.8 1323.2,1246.8 1327.2,1246.9 1331.2,1246.9 1335.2,1247.0 1339.2,1247.0 1343.2,1247.0 1347.2,1247.1 1351.1,1247.1 1355.1,1247.2 1359.1,1247.2 1363.1,1247.3 1367.1,1247.3 1371.1,1247.4 1375.1,1247.4 1379.1,1247.5 1383.0,1247.5 1387.0,1247.6 1391.0,1247.6 1395.0,1247.7 1399.0,1247.7 1403.0,1247.7 1407.0,1247.8 1411.0,1247.9 1415.0,1247.9 1418.9,1248.0 1422.9,1248.0 1426.9,1248.1 1430.9,1248.1 1434.9,1248.2 1438.9,1248.2 1442.9,1248.3 1446.9,1248.3 1450.8,1248.4 1454.8,1248.4 1458.8,1248.5 1462.8,1248.5 1466.8,1248.6 1470.8,1248.6 1474.8,1248.7 1478.8,1248.7 1482.7,1248.8 1486.7,1248.8 1490.7,1248.9 1494.7,1248.9 1498.7,1249.0 1502.7,1249.0 1506.7,1249.1 1510.7,1249.1 1514.7,1249.1 1518.6,1249.2 1522.6,1249.2 1526.6,1249.3 1530.6,1249.3 1534.6,1249.4 1538.6,1249.4 1542.6,1249.4 1546.6,1249.5 1550.5,1249.5 1554.5,1249.6 1558.5,1249.6 1562.5,1249.6 1566.5,1249.7 1570.5,1249.7 1574.5,1249.7 1578.5,1249.8 1582.4,1249.8 1586.4,1249.9 1590.4,1249.9 1594.4,1249.9 1598.4,1250.0 1602.4,1250.0 1606.4,1250.0 1610.4,1250.1 1614.4,1250.1 1618.3,1250.1 1622.3,1250.1 1626.3,1250.2 1630.3,1250.2 1634.3,1250.2 1638.3,1250.3 1642.3,1250.3 1646.3,1250.3 1650.2,1250.4 1654.2,1250.4 1658.2,1250.4 1662.2,1250.4 1666.2,1250.4 1670.2,1250.5 1674.2,1250.5 1678.2,1250.5 1682.1,1250.5 1686.1,1250.5 1690.1,1250.5 1694.1,1250.5 1698.1,1250.5 1702.1,1250.5 1706.1,1250.5 1710.1,1250.5 1714.1,1250.5 1718.0,1250.5 1722.0,1250.5 1726.0,1250.5 1730.0,1250.5 1734.0,1250.5 1738.0,1250.4 1742.0,1250.4 1746.0,1250.4 1749.9,1250.3 1753.9,1250.3 1757.9,1250.3 1761.9,1250.2 1765.9,1250.2 1769.9,1250.2 1773.9,1250.2 1777.9,1250.1 1781.8,1250.1 1785.8,1250.1 1789.8,1250.1 1793.8,1250.1 1797.8,1250.1 1801.8,1250.1 1805.8,1250.1 1809.8,1250.1 1813.8,1250.1 1817.7,1250.1 1821.7,1250.1 1825.7,1250.1 1829.7,1250.1 1833.7,1250.1 1837.7,1250.1 1841.7,1250.1 1845.7,1250.2 1849.6,1250.2 1853.6,1250.2 1857.6,1250.2 1861.6,1250.3 1865.6,1250.3 1869.6,1250.3 1873.6,1250.3 1877.6,1250.4 1881.5,1250.4 1885.5,1250.4 1889.5,1250.4 1893.5,1250.4 1897.5,1250.4 1901.5,1250.4 1905.5,1250.4 1909.5,1250.4 1913.5,1250.4 1917.4,1250.4 1921.4,1250.4 1925.4,1250.3 1929.4,1250.3 1933.4,1250.3 1937.4,1250.2 1941.4,1250.2 1945.4,1250.1 1949.3,1250.1 1953.3,1250.0 1957.3,1249.9 1961.3,1249.9 1965.3,1249.8 1969.3,1249.7 1973.3,1249.6 1977.3,1249.5 1981.2,1249.5 1985.2,1249.4 1989.2,1249.3 1993.2,1249.2 1997.2,1249.1 2001.2,1249.1 2005.2,1249.0 2009.2,1248.9 2013.2,1248.8 2017.1,1248.8 2021.1,1248.7 2025.1,1248.7 2029.1,1248.6 2033.1,1248.6 2037.1,1248.6 2041.1,1248.6 2045.1,1248.6 2049.0,1248.6 2053.0,1248.6 2057.0,1248.6 2061.0,1248.7 2065.0,1248.7 2069.0,1248.8 2073.0,1248.9 2077.0,1249.1 2080.9,1249.2 2084.9,1249.4 2088.9,1249.6 2092.9,1249.7 2096.9,1249.9 2100.9,1250.1 2104.9,1250.3 2108.9,1250.4 2112.9,1250.6 2116.8,1250.8 2120.8,1251.0 2124.8,1251.2 2128.8,1251.3 2132.8,1251.5 2136.8,1251.7 2140.8,1251.8 2144.8,1252.0 2148.7,1252.2 2152.7,1252.3 2156.7,1252.5 2160.7,1252.6 2164.7,1252.7 2168.7,1252.8 2172.7,1252.9 2176.7,1253.0 2180.6,1253.1 2184.6,1253.2 2188.6,1253.3 2192.6,1253.4 2196.6,1253.4" marker-start="url(#m5)" marker-mid="url(#m5)" marker-end="url(#m5)"/>
<polyline points="1000.2,1219.1 1004.2,1220.4 1008.2,1221.7 1012.2,1222.9 1016.2,1223.9 1020.1,1225.0 1024.1,1225.9 1028.1,1226.8 1032.1,1227.7 1036.1,1228.6 1040.1,1229.5 1044.1,1230.4 1048.1,1231.2 1052.0,1232.0 1056.0,1232.7 1060.0,1233.4 1064.0,1234.1 1068.0,1234.7 1072.0,1235.3 1076.0,1235.9 1080.0,1236.5 1083.9,1237.0 1087.9,1237.5 1091.9,1238.0 1095.9,1238.4 1099.9,1238.8 1103.9,1239.2 1107.9,1239.6 1111.9,1240.0 1115.9,1240.4 1119.8,1240.8 1123.8,1241.2 1127.8,1241.5 1131.8,1241.9 1135.8,1242.2 1139.8,1242.6 1143.8,1242.9 1147.8,1243.2 1151.7,1243.6 1155.7,1243.9 1159.7,1244.1 1163.7,1244.4 1167.7,1244.7 1171.7,1244.9 1175.7,1245.1 1179.7,1245.4 1183.6,1245.6 1187.6,1245.7 1191.6,1245.9 1195.6,1246.0 1199.6,1246.2 1203.6,1246.3 1207.6,1246.4 1211.6,1246.5 1215.6,1246.6 1219.5,1246.7 1223.5,1246.8 1227.5,1246.9 1231.5,1247.0 1235.5,1247.1 1239.5,1247.1 1243.5,1247.2 1247.5,1247.3 1251.4,1247.4 1255.4,1247.5 1259.4,1247.5 1263.4,1247.6 1267.4,1247.7 1271.4,1247.7 1275.4,1247.8 1279.4,1247.9 1283.3,1247.9 1287.3,1248.0 1291.3,1248.1 1295.3,1248.1 1299.3,1248.2 1303.3,1248.2 1307.3,1248.3 1311.3,1248.3 1315.3,1248.4 1319.2,1248.4 1323.2,1248.5 1327.2,1248.5 1331.2,1248.6 1335.2,1248.6 1339.2,1248.7 1343.2,1248.7 1347.2,1248.8 1351.1,1248.8 1355.1,1248.9 1359.1,1248.9 1363.1,1248.9 1367.1,1249.0 1371.1,1249.0 1375.1,1249.1 1379.1,1249.1 1383.0,1249.2 1387.0,1249.2 1391.0,1249.3 1395.0,1249.3 1399.0,1249.3 1403.0,1249.3 1407.0,1249.4 1411.0,1249.4 1415.0,1249.5 1418.9,1249.5 1422.9,1249.6 1426.9,1249.6 1430.9,1249.6 1434.9,1249.7 1438.9,1249.7 1442.9,1249.8 1446.9,1249.8 1450.8,1249.8 1454.8,1249.9 1458.8,1249.9 1462.8,1249.9 1466.8,1250.0 1470.8,1250.0 1474.8,1250.0 1478.8,1250.1 1482.7,1250.1 1486.7,1250.1 1490.7,1250.2 1494.7,1250.2 1498.7,1250.2 1502.7,1250.3 1506.7,1250.3 1510.7,1250.3 1514.7,1250.4 1518.6,1250.4 1522.6,1250.4 1526.6,1250.4 1530.6,1250.5 1534.6,1250.5 1538.6,1250.5 1542.6,1250.5 1546.6,1250.6 1550.5,1250.6 1554.5,1250.6 1558.5,1250.6 1562.5,1250.7 1566.5,1250.7 1570.5,1250.7 1574.5,1250.7 1578.5,1250.7 1582.4,1250.8 1586.4,1250.8 1590.4,1250.8 1594.4,1250.8 1598.4,1250.8 1602.4,1250.9 1606.4,1250.9 1610.4,1250.9 1614.4,1250.9 1618.3,1250.9 1622.3,1250.9 1626.3,1251.0 1630.3,1251.0 1634.3,1251.0 1638.3,1251.0 1642.3,1251.0 1646.3,1251.0 1650.2,1251.1 1654.2,1251.1 1658.2,1251.1 1662.2,1251.1 1666.2,1251.1 1670.2,1251.1 1674.2,1251.1 1678.2,1251.1 1682.1,1251.1 1686.1,1251.1 1690.1,1251.1 1694.1,1251.1 1698.1,1251.1 1702.1,1251.1 1706.1,1251.1 1710.1,1251.1 1714.1,1251.1 1718.0,1251.1 1722.0,1251.1 1726.0,1251.0 1730.0,1251.0 1734.0,1251.0 1738.0,1251.0 1742.0,1251.0 1746.0,1250.9 1749.9,1250.9 1753.9,1250.9 1757.9,1250.8 1761.9,1250.8 1765.9,1250.8 1769.9,1250.8 1773.9,1250.7 1777.9,1250.7 1781.8,1250.7 1785.8,1250.7 1789.8,1250.7 1793.8,1250.7 1797.8,1250.6 1801.8,1250.6 1805.8,1250.6 1809.8,1250.6 1813.8,1250.6 1817.7,1250.6 1821.7,1250.6 1825.7,1250.6 1829.7,1250.6 1833.7,1250.6 1837.7,1250.7 1841.7,1250.7 1845.7,1250.7 1849.6,1250.7 1853.6,1250.7 1857.6,1250.7 1861.6,1250.7 1865.6,1250.8 1869.6,1250.8 1873.6,1250.8 1877.6,1250.8 1881.5,1250.8 1885.5,1250.8 1889.5,1250.8 1893.5,1250.8 1897.5,1250.8 1901.5,1250.8 1905.5,1250.8 1909.5,1250.8 1913.5,1250.8 1917.4,1250.8 1921.4,1250.8 1925.4,1250.7 1929.4,1250.7 1933.4,1250.7 1937.4,1250.6 1941.4,1250.6 1945.4,1250.6 1949.3,1250.5 1953.3,1250.5 1957.3,1250.4 1961.3,1250.4 1965.3,1250.3 1969.3,1250.2 1973.3,1250.2 1977.3,1250.1 1981.2,1250.0 1985.2,1250.0 1989.2,1249.9 1993.2,1249.9 1997.2,1249.8 2001.2,1249.7 2005.2,1249.7 2009.2,1249.6 2013.2,1249.6 2017.1,1249.5 2021.1,1249.5 2025.1,1249.4 2029.1,1249.4 2033.1,1249.4 2037.1,1249.4 2041.1,1249.4 2045.1,1249.4 2049.0,1249.4 2053.0,1249.4 2057.0,1249.4 2061.0,1249.5 2065.0,1249.5 2069.0,1249.6 2073.0,1249.7 2077.0,1249.8 2080.9,1249.9 2084.9,1250.1 2088.9,1250.2 2092.9,1250.4 2096.9,1250.5 2100.9,1250.7 2104.9,1250.8 2108.9,1251.0 2112.9,1251.2 2116.8,1251.3 2120.8,1251.5 2124.8,1251.6 2128.8,1251.8 2132.8,1251.9 2136.8,1252.1 2140.8,1252.2 2144.8,1252.4 2148.7,1252.5 2152.7,1252.7 2156.7,1252.8 2160.7,1252.9 2164.7,1253.0 2168.7,1253.1 2172.7,1253.2 2176.7,1253.3 2180.6,1253.4 2184.6,1253.4 2188.6,1253.5 2192.6,1253.6 2196.6,1253.6" marker-start="url(#m6)" marker-mid="url(#m6)" marker-end="url(#m6)"/>
<polyline points="1000.2,1222.3 1004.2,1223.5 1008.2,1224.7 1012.2,1225.8 1016.2,1226.8 1020.1,1227.8 1024.1,1228.7 1028.1,1229.6 1032.1,1230.4 1036.1,1231.3 1040.1,1232.1 1044.1,1232.9 1048.1,1233.7 1052.0,1234.4 1056.0,1235.1 1060.0,1235.8 1064.0,1236.4 1068.0,1237.0 1072.0,1237.5 1076.0,1238.1 1080.0,1238.6 1083.9,1239.1 1087.9,1239.6 1091.9,1240.1 1095.9,1240.5 1099.9,1240.9 1103.9,1241.2 1107.9,1241.6 1111.9,1242.0 1115.9,1242.4 1119.8,1242.7 1123.8,1243.1 1127.8,1243.4 1131.8,1243.8 1135.8,1244.1 1139.8,1244.4 1143.8,1244.7 1147.8,1245.1 1151.7,1245.4 1155.7,1245.6 1159.7,1245.9 1163.7,1246.2 1167.7,1246.4 1171.7,1246.6 1175.7,1246.9 1179.7,1247.1 1183.6,1247.2 1187.6,1247.4 1191.6,1247.5 1195.6,1247.7 1199.6,1247.8 1203.6,1247.8 1207.6,1247.9 1211.6,1248.0 1215.6,1248.1 1219.5,1248.2 1223.5,1248.2 1227.5,1248.3 1231.5,1248.4 1235.5,1248.4 1239.5,1248.5 1243.5,1248.6 1247.5,1248.6 1251.4,1248.7 1255.4,1248.8 1259.4,1248.8 1263.4,1248.9 1267.4,1248.9 1271.4,1249.0 1275.4,1249.0 1279.4,1249.1 1283.3,1249.1 1287.3,1249.1 1291.3,1249.2 1295.3,1249.2 1299.3,1249.3 1303.3,1249.3 1307.3,1249.4 1311.3,1249.4 1315.3,1249.4 1319.2,1249.5 1323.2,1249.5 1327.2,1249.5 1331.2,1249.6 1335.2,1249.6 1339.2,1249.6 1343.2,1249.7 1347.2,1249.7 1351.1,1249.7 1355.1,1249.8 1359.1,1249.8 1363.1,1249.8 1367.1,1249.9 1371.1,1249.9 1375.1,1249.9 1379.1,1250.0 1383.0,1250.0 1387.0,1250.0 1391.0,1250.1 1395.0,1250.1 1399.0,1250.1 1403.0,1250.1 1407.0,1250.2 1411.0,1250.2 1415.0,1250.2 1418.9,1250.3 1422.9,1250.3 1426.9,1250.4 1430.9,1250.4 1434.9,1250.4 1438.9,1250.5 1442.9,1250.5 1446.9,1250.5 1450.8,1250.5 1454.8,1250.6 1458.8,1250.6 1462.8,1250.6 1466.8,1250.7 1470.8,1250.7 1474.8,1250.7 1478.8,1250.8 1482.7,1250.8 1486.7,1250.8 1490.7,1250.9 1494.7,1250.9 1498.7,1250.9 1502.7,1250.9 1506.7,1251.0 1510.7,1251.0 1514.7,1251.0 1518.6,1251.0 1522.6,1251.1 1526.6,1251.1 1530.6,1251.1 1534.6,1251.1 1538.6,1251.2 1542.6,1251.2 1546.6,1251.2 1550.5,1251.2 1554.5,1251.2 1558.5,1251.3 1562.5,1251.3 1566.5,1251.3 1570.5,1251.3 1574.5,1251.4 1578.5,1251.4 1582.4,1251.4 1586.4,1251.4 1590.4,1251.4 1594.4,1251.4 1598.4,1251.5 1602.4,1251.5 1606.4,1251.5 1610.4,1251.5 1614.4,1251.5 1618.3,1251.5 1622.3,1251.6 1626.3,1251.6 1630.3,1251.6 1634.3,1251.6 1638.3,1251.6 1642.3,1251.6 1646.3,1251.6 1650.2,1251.7 1654.2,1251.7 1658.2,1251.7 1662.2,1251.7 1666.2,1251.7 1670.2,1251.7 1674.2,1251.7 1678.2,1251.7 1682.1,1251.7 1686.1,1251.7 1690.1,1251.7 1694.1,1251.7 1698.1,1251.7 1702.1,1251.7 1706.1,1251.7 1710.1,1251.7 1714.1,1251.7 1718.0,1251.7 1722.0,1251.7 1726.0,1251.6 1730.0,1251.6 1734.0,1251.6 1738.0,1251.6 1742.0,1251.5 1746.0,1251.5 1749.9,1251.5 1753.9,1251.5 1757.9,1251.4 1761.9,1251.4 1765.9,1251.4 1769.9,1251.4 1773.9,1251.3 1777.9,1251.3 1781.8,1251.3 1785.8,1251.3 1789.8,1251.2 1793.8,1251.2 1797.8,1251.2 1801.8,1251.2 1805.8,1251.2 1809.8,1251.2 1813.8,1251.2 1817.7,1251.1 1821.7,1251.1 1825.7,1251.1 1829.7,1251.1 1833.7,1251.1 1837.7,1251.1 1841.7,1251.1 1845.7,1251.1 1849.6,1251.1 1853.6,1251.1 1857.6,1251.1 1861.6,1251.1 1865.6,1251.1 1869.6,1251.1 1873.6,1251.1 1877.6,1251.1 1881.5,1251.1 1885.5,1251.1 1889.5,1251.1 1893.5,1251.1 1897.5,1251.1 1901.5,1251.1 1905.5,1251.1 1909.5,1251.0 1913.5,1251.0 1917.4,1251.0 1921.4,1251.0 1925.4,1250.9 1929.4,1250.9 1933.4,1250.9 1937.4,1250.8 1941.4,1250.8 1945.4,1250.8 1949.3,1250.7 1953.3,1250.7 1957.3,1250.6 1961.3,1250.6 1965.3,1250.5 1969.3,1250.5 1973.3,1250.4 1977.3,1250.4 1981.2,1250.3 1985.2,1250.2 1989.2,1250.2 1993.2,1250.1 1997.2,1250.1 2001.2,1250.0 2005.2,1250.0 2009.2,1250.0 2013.2,1249.9 2017.1,1249.9 2021.1,1249.9 2025.1,1249.8 2029.1,1249.8 2033.1,1249.8 2037.1,1249.8 2041.1,1249.8 2045.1,1249.8 2049.0,1249.9 2053.0,1249.9 2057.0,1249.9 2061.0,1250.0 2065.0,1250.1 2069.0,1250.1 2073.0,1250.2 2077.0,1250.4 2080.9,1250.5 2084.9,1250.6 2088.9,1250.8 2092.9,1250.9 2096.9,1251.1 2100.9,1251.2 2104.9,1251.4 2108.9,1251.5 2112.9,1251.7 2116.8,1251.8 2120.8,1252.0 2124.8,1252.1 2128.8,1252.3 2132.8,1252.4 2136.8,1252.6 2140.8,1252.7 2144.8,1252.9 2148.7,1253.0 2152.7,1253.1 2156.7,1253.2 2160.7,1253.4 2164.7,1253.5 2168.7,1253.5 2172.7,1253.6 2176.7,1253.7 2180.6,1253.8 2184.6,1253.9 2188.6,1253.9 2192.6,1254.0 2196.6,1254.0" marker-start="url(#m7)" marker-mid="url(#m7)" marker-end="url(#m7)"/>
<polyline points="1000.2,1225.4 1004.2,1226.6 1008.2,1227.8 1012.2,1228.8 1016.2,1229.7 1020.1,1230.6 1024.1,1231.5 1028.1,1232.3 1032.1,1233.1 1036.1,1233.9 1040.1,1234.7 1044.1,1235.4 1048.1,1236.1 1052.0,1236.8 1056.0,1237.5 1060.0,1238.1 1064.0,1238.7 1068.0,1239.2 1072.0,1239.8 1076.0,1240.3 1080.0,1240.8 1083.9,1241.3 1087.9,1241.7 1091.9,1242.1 1095.9,1242.5 1099.9,1242.9 1103.9,1243.2 1107.9,1243.6 1111.9,1243.9 1115.9,1244.3 1119.8,1244.6 1123.8,1245.0 1127.8,1245.3 1131.8,1245.6 1135.8,1245.9 1139.8,1246.2 1143.8,1246.5 1147.8,1246.8 1151.7,1247.1 1155.7,1247.4 1159.7,1247.6 1163.7,1247.9 1167.7,1248.1 1171.7,1248.3 1175.7,1248.5 1179.7,1248.7 1183.6,1248.9 1187.6,1249.0 1191.6,1249.1 1195.6,1249.3 1199.6,1249.4 1203.6,1249.4 1207.6,1249.5 1211.6,1249.6 1215.6,1249.7 1219.5,1249.8 1223.5,1249.8 1227.5,1249.9 1231.5,1250.0 1235.5,1250.0 1239.5,1250.1 1243.5,1250.2 1247.5,1250.2 1251.4,1250.3 1255.4,1250.4 1259.4,1250.4 1263.4,1250.5 1267.4,1250.5 1271.4,1250.6 1275.4,1250.6 1279.4,1250.7 1283.3,1250.7 1287.3,1250.8 1291.3,1250.8 1295.3,1250.9 1299.3,1250.9 1303.3,1250.9 1307.3,1251.0 1311.3,1251.0 1315.3,1251.1 1319.2,1251.1 1323.2,1251.1 1327.2,1251.2 1331.2,1251.2 1335.2,1251.2 1339.2,1251.3 1343.2,1251.3 1347.2,1251.3 1351.1,1251.4 1355.1,1251.4 1359.1,1251.4 1363.1,1251.5 1367.1,1251.5 1371.1,1251.5 1375.1,1251.6 1379.1,1251.6 1383.0,1251.6 1387.0,1251.6 1391.0,1251.7 1395.0,1251.7 1399.0,1251.7 1403.0,1251.7 1407.0,1251.8 1411.0,1251.8 1415.0,1251.8 1418.9,1251.8 1422.9,1251.9 1426.9,1251.9 1430.9,1251.9 1434.9,1252.0 1438.9,1252.0 1442.9,1252.0 1446.9,1252.0 1450.8,1252.1 1454.8,1252.1 1458.8,1252.1 1462.8,1252.1 1466.8,1252.2 1470.8,1252.2 1474.8,1252.2 1478.8,1252.2 1482.7,1252.3 1486.7,1252.3 1490.7,1252.3 1494.7,1252.3 1498.7,1252.3 1502.7,1252.4 1506.7,1252.4 1510.7,1252.4 1514.7,1252.4 1518.6,1252.4 1522.6,1252.4 1526.6,1252.5 1530.6,1252.5 1534.6,1252.5 1538.6,1252.5 1542.6,1252.5 1546.6,1252.5 1550.5,1252.6 1554.5,1252.6 1558.5,1252.6 1562.5,1252.6 1566.5,1252.6 1570.5,1252.6 1574.5,1252.6 1578.5,1252.6 1582.4,1252.7 1586.4,1252.7 1590.4,1252.7 1594.4,1252.7 1598.4,1252.7 1602.4,1252.7 1606.4,1252.7 1610.4,1252.7 1614.4,1252.7 1618.3,1252.7 1622.3,1252.7 1626.3,1252.8 1630.3,1252.8 1634.3,1252.8 1638.3,1252.8 1642.3,1252.8 1646.3,1252.8 1650.2,1252.8 1654.2,1252.8 1658.2,1252.8 1662.2,1252.8 1666.2,1252.8 1670.2,1252.8 1674.2,1252.8 1678.2,1252.8 1682.1,1252.8 1686.1,1252.8 1690.1,1252.8 1694.1,1252.8 1698.1,1252.8 1702.1,1252.7 1706.1,1252.7 1710.1,1252.7 1714.1,1252.7 1718.0,1252.7 1722.0,1252.7 1726.0,1252.6 1730.0,1252.6 1734.0,1252.6 1738.0,1252.6 1742.0,1252.5 1746.0,1252.5 1749.9,1252.5 1753.9,1252.4 1757.9,1252.4 1761.9,1252.4 1765.9,1252.3 1769.9,1252.3 1773.9,1252.3 1777.9,1252.2 1781.8,1252.2 1785.8,1252.2 1789.8,1252.2 1793.8,1252.1 1797.8,1252.1 1801.8,1252.1 1805.8,1252.1 1809.8,1252.1 1813.8,1252.0 1817.7,1252.0 1821.7,1252.0 1825.7,1252.0 1829.7,1252.0 1833.7,1252.0 1837.7,1252.0 1841.7,1252.0 1845.7,1252.0 1849.6,1252.0 1853.6,1252.0 1857.6,1252.0 1861.6,1252.0 1865.6,1252.0 1869.6,1251.9 1873.6,1251.9 1877.6,1251.9 1881.5,1251.9 1885.5,1251.9 1889.5,1251.9 1893.5,1251.9 1897.5,1251.9 1901.5,1251.9 1905.5,1251.9 1909.5,1251.8 1913.5,1251.8 1917.4,1251.8 1921.4,1251.8 1925.4,1251.7 1929.4,1251.7 1933.4,1251.7 1937.4,1251.6 1941.4,1251.6 1945.4,1251.5 1949.3,1251.5 1953.3,1251.4 1957.3,1251.4 1961.3,1251.3 1965.3,1251.3 1969.3,1251.2 1973.3,1251.1 1977.3,1251.1 1981.2,1251.0 1985.2,1251.0 1989.2,1250.9 1993.2,1250.9 1997.2,1250.8 2001.2,1250.7 2005.2,1250.7 2009.2,1250.7 2013.2,1250.6 2017.1,1250.6 2021.1,1250.5 2025.1,1250.5 2029.1,1250.5 2033.1,1250.5 2037.1,1250.5 2041.1,1250.5 2045.1,1250.5 2049.0,1250.5 2053.0,1250.5 2057.0,1250.5 2061.0,1250.6 2065.0,1250.7 2069.0,1250.7 2073.0,1250.8 2077.0,1250.9 2080.9,1251.1 2084.9,1251.2 2088.9,1251.3 2092.9,1251.4 2096.9,1251.6 2100.9,1251.7 2104.9,1251.9 2108.9,1252.0 2112.9,1252.1 2116.8,1252.3 2120.8,1252.4 2124.8,1252.6 2128.8,1252.7 2132.8,1252.8 2136.8,1253.0 2140.8,1253.1 2144.8,1253.3 2148.7,1253.4 2152.7,1253.5 2156.7,1253.6 2160.7,1253.7 2164.7,1253.8 2168.7,1253.9 2172.7,1254.0 2176.7,1254.0 2180.6,1254.1 2184.6,1254.2 2188.6,1254.2 2192.6,1254.3 2196.6,1254.3" marker-start="url(#m8)" marker-mid="url(#m8)" marker-end="url(#m8)"/>
<polyline points="1000.2,1217.5 1004.2,1218.9 1008.2,1220.2 1012.2,1221.4 1016.2,1222.5 1020.1,1223.5 1024.1,1224.5 1028.1,1225.5 1032.1,1226.4 1036.1,1227.3 1040.1,1228.2 1044.1,1229.1 1048.1,1230.0 1052.0,1230.8 1056.0,1231.5 1060.0,1232.3 1064.0,1232.9 1068.0,1233.6 1072.0,1234.2 1076.0,1234.8 1080.0,1235.4 1083.9,1235.9 1087.9,1236.5 1091.9,1237.0 1095.9,1237.4 1099.9,1237.8 1103.9,1238.2 1107.9,1238.6 1111.9,1239.1 1115.9,1239.4 1119.8,1239.8 1123.8,1240.2 1127.8,1240.6 1131.8,1241.0 1135.8,1241.3 1139.8,1241.7 1143.8,1242.0 1147.8,1242.4 1151.7,1242.7 1155.7,1243.0 1159.7,1243.3 1163.7,1243.6 1167.7,1243.8 1171.7,1244.1 1175.7,1244.3 1179.7,1244.5 1183.6,1244.8 1187.6,1244.9 1191.6,1245.1 1195.6,1245.2 1199.6,1245.4 1203.6,1245.5 1207.6,1245.6 1211.6,1245.7 1215.6,1245.8 1219.5,1245.9 1223.5,1246.0 1227.5,1246.1 1231.5,1246.2 1235.5,1246.3 1239.5,1246.4 1243.5,1246.4 1247.5,1246.5 1251.4,1246.6 1255.4,1246.7 1259.4,1246.7 1263.4,1246.8 1267.4,1246.9 1271.4,1247.0 1275.4,1247.0 1279.4,1247.1 1283.3,1247.1 1287.3,1247.2 1291.3,1247.3 1295.3,1247.3 1299.3,1247.4 1303.3,1247.4 1307.3,1247.5 1311.3,1247.5 1315.3,1247.6 1319.2,1247.6 1323.2,1247.7 1327.2,1247.7 1331.2,1247.8 1335.2,1247.8 1339.2,1247.9 1343.2,1247.9 1347.2,1248.0 1351.1,1248.0 1355.1,1248.1 1359.1,1248.1 1363.1,1248.2 1367.1,1248.2 1371.1,1248.2 1375.1,1248.3 1379.1,1248.3 1383.0,1248.4 1387.0,1248.4 1391.0,1248.5 1395.0,1248.5 1399.0,1248.5 1403.0,1248.5 1407.0,1248.6 1411.0,1248.6 1415.0,1248.7 1418.9,1248.7 1422.9,1248.8 1426.9,1248.8 1430.9,1248.8 1434.9,1248.9 1438.9,1248.9 1442.9,1249.0 1446.9,1249.0 1450.8,1249.0 1454.8,1249.1 1458.8,1249.1 1462.8,1249.1 1466.8,1249.2 1470.8,1249.2 1474.8,1249.3 1478.8,1249.3 1482.7,1249.3 1486.7,1249.4 1490.7,1249.4 1494.7,1249.4 1498.7,1249.4 1502.7,1249.5 1506.7,1249.5 1510.7,1249.5 1514.7,1249.6 1518.6,1249.6 1522.6,1249.6 1526.6,1249.6 1530.6,1249.7 1534.6,1249.7 1538.6,1249.7 1542.6,1249.7 1546.6,1249.8 1550.5,1249.8 1554.5,1249.8 1558.5,1249.8 1562.5,1249.9 1566.5,1249.9 1570.5,1249.9 1574.5,1249.9 1578.5,1249.9 1582.4,1250.0 1586.4,1250.0 1590.4,1250.0 1594.4,1250.0 1598.4,1250.0 1602.4,1250.1 1606.4,1250.1 1610.4,1250.1 1614.4,1250.1 1618.3,1250.1 1622.3,1250.1 1626.3,1250.2 1630.3,1250.2 1634.3,1250.2 1638.3,1250.2 1642.3,1250.2 1646.3,1250.2 1650.2,1250.3 1654.2,1250.3 1658.2,1250.3 1662.2,1250.3 1666.2,1250.3 1670.2,1250.3 1674.2,1250.3 1678.2,1250.3 1682.1,1250.3 1686.1,1250.3 1690.1,1250.3 1694.1,1250.3 1698.1,1250.3 1702.1,1250.3 1706.1,1250.3 1710.1,1250.3 1714.1,1250.3 1718.0,1250.3 1722.0,1250.3 1726.0,1250.2 1730.0,1250.2 1734.0,1250.2 1738.0,1250.2 1742.0,1250.2 1746.0,1250.1 1749.9,1250.1 1753.9,1250.1 1757.9,1250.0 1761.9,1250.0 1765.9,1250.0 1769.9,1250.0 1773.9,1249.9 1777.9,1249.9 1781.8,1249.9 1785.8,1249.9 1789.8,1249.9 1793.8,1249.8 1797.8,1249.8 1801.8,1249.8 1805.8,1249.8 1809.8,1249.8 1813.8,1249.8 1817.7,1249.8 1821.7,1249.8 1825.7,1249.8 1829.7,1249.8 1833.7,1249.8 1837.7,1249.8 1841.7,1249.8 1845.7,1249.8 1849.6,1249.8 1853.6,1249.8 1857.6,1249.8 1861.6,1249.8 1865.6,1249.8 1869.6,1249.8 1873.6,1249.8 1877.6,1249.8 1881.5,1249.9 1885.5,1249.9 1889.5,1249.9 1893.5,1249.9 1897.5,1249.8 1901.5,1249.8 1905.5,1249.8 1909.5,1249.8 1913.5,1249.8 1917.4,1249.8 1921.4,1249.8 1925.4,1249.7 1929.4,1249.7 1933.4,1249.7 1937.4,1249.6 1941.4,1249.6 1945.4,1249.5 1949.3,1249.5 1953.3,1249.4 1957.3,1249.4 1961.3,1249.3 1965.3,1249.3 1969.3,1249.2 1973.3,1249.2 1977.3,1249.1 1981.2,1249.0 1985.2,1249.0 1989.2,1248.9 1993.2,1248.9 1997.2,1248.8 2001.2,1248.8 2005.2,1248.7 2009.2,1248.7 2013.2,1248.6 2017.1,1248.6 2021.1,1248.6 2025.1,1248.6 2029.1,1248.5 2033.1,1248.5 2037.1,1248.5 2041.1,1248.5 2045.1,1248.6 2049.0,1248.6 2053.0,1248.6 2057.0,1248.7 2061.0,1248.8 2065.0,1248.8 2069.0,1248.9 2073.0,1249.1 2077.0,1249.2 2080.9,1249.4 2084.9,1249.5 2088.9,1249.7 2092.9,1249.9 2096.9,1250.1 2100.9,1250.3 2104.9,1250.4 2108.9,1250.6 2112.9,1250.8 2116.8,1251.0 2120.8,1251.2 2124.8,1251.4 2128.8,1251.5 2132.8,1251.7 2136.8,1251.9 2140.8,1252.1 2144.8,1252.2 2148.7,1252.4 2152.7,1252.5 2156.7,1252.7 2160.7,1252.8 2164.7,1252.9 2168.7,1253.0 2172.7,1253.2 2176.7,1253.3 2180.6,1253.3 2184.6,1253.4 2188.6,1253.5 2192.6,1253.6 2196.6,1253.6" marker-start="url(#m9)" marker-mid="url(#m9)" marker-end="url(#m9)"/>
<polyline points="1000.2,1227.0 1004.2,1228.2 1008.2,1229.3 1012.2,1230.3 1016.2,1231.2 1020.1,1232.1 1024.1,1232.9 1028.1,1233.7 1032.1,1234.4 1036.1,1235.2 1040.1,1235.9 1044.1,1236.7 1048.1,1237.4 1052.0,1238.1 1056.0,1238.7 1060.0,1239.3 1064.0,1239.8 1068.0,1240.4 1072.0,1240.9 1076.0,1241.4 1080.0,1241.9 1083.9,1242.3 1087.9,1242.8 1091.9,1243.2 1095.9,1243.6 1099.9,1243.9 1103.9,1244.2 1107.9,1244.6 1111.9,1244.9 1115.9,1245.3 1119.8,1245.6 1123.8,1245.9 1127.8,1246.2 1131.8,1246.5 1135.8,1246.8 1139.8,1247.1 1143.8,1247.4 1147.8,1247.7 1151.7,1248.0 1155.7,1248.2 1159.7,1248.5 1163.7,1248.7 1167.7,1248.9 1171.7,1249.2 1175.7,1249.3 1179.7,1249.5 1183.6,1249.7 1187.6,1249.8 1191.6,1250.0 1195.6,1250.1 1199.6,1250.2 1203.6,1250.2 1207.6,1250.3 1211.6,1250.4 1215.6,1250.4 1219.5,1250.5 1223.5,1250.6 1227.5,1250.6 1231.5,1250.7 1235.5,1250.8 1239.5,1250.8 1243.5,1250.9 1247.5,1250.9 1251.4,1251.0 1255.4,1251.0 1259.4,1251.1 1263.4,1251.1 1267.4,1251.2 1271.4,1251.2 1275.4,1251.3 1279.4,1251.3 1283.3,1251.3 1287.3,1251.4 1291.3,1251.4 1295.3,1251.5 1299.3,1251.5 1303.3,1251.5 1307.3,1251.6 1311.3,1251.6 1315.3,1251.6 1319.2,1251.7 1323.2,1251.7 1327.2,1251.7 1331.2,1251.7 1335.2,1251.8 1339.2,1251.8 1343.2,1251.8 1347.2,1251.9 1351.1,1251.9 1355.1,1251.9 1359.1,1251.9 1363.1,1252.0 1367.1,1252.0 1371.1,1252.0 1375.1,1252.1 1379.1,1252.1 1383.0,1252.1 1387.0,1252.1 1391.0,1252.2 1395.0,1252.2 1399.0,1252.2 1403.0,1252.2 1407.0,1252.2 1411.0,1252.3 1415.0,1252.3 1418.9,1252.3 1422.9,1252.3 1426.9,1252.4 1430.9,1252.4 1434.9,1252.4 1438.9,1252.4 1442.9,1252.5 1446.9,1252.5 1450.8,1252.5 1454.8,1252.5 1458.8,1252.5 1462.8,1252.6 1466.8,1252.6 1470.8,1252.6 1474.8,1252.6 1478.8,1252.7 1482.7,1252.7 1486.7,1252.7 1490.7,1252.7 1494.7,1252.7 1498.7,1252.8 1502.7,1252.8 1506.7,1252.8 1510.7,1252.8 1514.7,1252.8 1518.6,1252.8 1522.6,1252.9 1526.6,1252.9 1530.6,1252.9 1534.6,1252.9 1538.6,1252.9 1542.6,1252.9 1546.6,1252.9 1550.5,1253.0 1554.5,1253.0 1558.5,1253.0 1562.5,1253.0 1566.5,1253.0 1570.5,1253.0 1574.5,1253.0 1578.5,1253.0 1582.4,1253.0 1586.4,1253.1 1590.4,1253.1 1594.4,1253.1 1598.4,1253.1 1602.4,1253.1 1606.4,1253.1 1610.4,1253.1 1614.4,1253.1 1618.3,1253.1 1622.3,1253.1 1626.3,1253.1 1630.3,1253.1 1634.3,1253.1 1638.3,1253.2 1642.3,1253.2 1646.3,1253.2 1650.2,1253.2 1654.2,1253.2 1658.2,1253.2 1662.2,1253.2 1666.2,1253.2 1670.2,1253.2 1674.2,1253.2 1678.2,1253.2 1682.1,1253.1 1686.1,1253.1 1690.1,1253.1 1694.1,1253.1 1698.1,1253.1 1702.1,1253.1 1706.1,1253.1 1710.1,1253.1 1714.1,1253.0 1718.0,1253.0 1722.0,1253.0 1726.0,1253.0 1730.0,1253.0 1734.0,1252.9 1738.0,1252.9 1742.0,1252.9 1746.0,1252.8 1749.9,1252.8 1753.9,1252.8 1757.9,1252.7 1761.9,1252.7 1765.9,1252.7 1769.9,1252.6 1773.9,1252.6 1777.9,1252.6 1781.8,1252.5 1785.8,1252.5 1789.8,1252.5 1793.8,1252.4 1797.8,1252.4 1801.8,1252.4 1805.8,1252.4 1809.8,1252.4 1813.8,1252.3 1817.7,1252.3 1821.7,1252.3 1825.7,1252.3 1829.7,1252.3 1833.7,1252.3 1837.7,1252.3 1841.7,1252.2 1845.7,1252.2 1849.6,1252.2 1853.6,1252.2 1857.6,1252.2 1861.6,1252.2 1865.6,1252.2 1869.6,1252.2 1873.6,1252.2 1877.6,1252.2 1881.5,1252.2 1885.5,1252.2 1889.5,1252.2 1893.5,1252.2 1897.5,1252.1 1901.5,1252.1 1905.5,1252.1 1909.5,1252.1 1913.5,1252.1 1917.4,1252.0 1921.4,1252.0 1925.4,1252.0 1929.4,1251.9 1933.4,1251.9 1937.4,1251.8 1941.4,1251.8 1945.4,1251.8 1949.3,1251.7 1953.3,1251.6 1957.3,1251.6 1961.3,1251.5 1965.3,1251.5 1969.3,1251.4 1973.3,1251.4 1977.3,1251.3 1981.2,1251.2 1985.2,1251.2 1989.2,1251.1 1993.2,1251.1 1997.2,1251.0 2001.2,1250.9 2005.2,1250.9 2009.2,1250.8 2013.2,1250.8 2017.1,1250.8 2021.1,1250.7 2025.1,1250.7 2029.1,1250.7 2033.1,1250.6 2037.1,1250.6 2041.1,1250.6 2045.1,1250.6 2049.0,1250.6 2053.0,1250.7 2057.0,1250.7 2061.0,1250.7 2065.0,1250.8 2069.0,1250.9 2073.0,1251.0 2077.0,1251.1 2080.9,1251.2 2084.9,1251.3 2088.9,1251.4 2092.9,1251.5 2096.9,1251.7 2100.9,1251.8 2104.9,1252.0 2108.9,1252.1 2112.9,1252.2 2116.8,1252.4 2120.8,1252.5 2124.8,1252.6 2128.8,1252.8 2132.8,1252.9 2136.8,1253.0 2140.8,1253.2 2144.8,1253.3 2148.7,1253.4 2152.7,1253.5 2156.7,1253.6 2160.7,1253.7 2164.7,1253.8 2168.7,1253.9 2172.7,1254.0 2176.7,1254.1 2180.6,1254.1 2184.6,1254.2 2188.6,1254.2 2192.6,1254.3 2196.6,1254.3" marker-start="url(#m10)" marker-mid="url(#m10)" marker-end="url(#m10)"/>
<polyline points="1000.2,1223.9 1004.2,1225.1 1008.2,1226.2 1012.2,1227.3 1016.2,1228.3 1020.1,1229.2 1024.1,1230.1 1028.1,1230.9 1032.1,1231.8 1036.1,1232.6 1040.1,1233.4 1044.1,1234.2 1048.1,1234.9 1052.0,1235.6 1056.0,1236.3 1060.0,1236.9 1064.0,1237.5 1068.0,1238.1 1072.0,1238.7 1076.0,1239.2 1080.0,1239.7 1083.9,1240.2 1087.9,1240.7 1091.9,1241.1 1095.9,1241.5 1099.9,1241.9 1103.9,1242.2 1107.9,1242.6 1111.9,1243.0 1115.9,1243.3 1119.8,1243.7 1123.8,1244.0 1127.8,1244.3 1131.8,1244.7 1135.8,1245.0 1139.8,1245.3 1143.8,1245.6 1147.8,1245.9 1151.7,1246.2 1155.7,1246.5 1159.7,1246.7 1163.7,1247.0 1167.7,1247.2 1171.7,1247.4 1175.7,1247.6 1179.7,1247.8 1183.6,1248.0 1187.6,1248.2 1191.6,1248.3 1195.6,1248.5 1199.6,1248.6 1203.6,1248.7 1207.6,1248.7 1211.6,1248.8 1215.6,1248.9 1219.5,1249.0 1223.5,1249.1 1227.5,1249.2 1231.5,1249.3 1235.5,1249.3 1239.5,1249.4 1243.5,1249.5 1247.5,1249.6 1251.4,1249.6 1255.4,1249.7 1259.4,1249.8 1263.4,1249.8 1267.4,1249.9 1271.4,1249.9 1275.4,1250.0 1279.4,1250.0 1283.3,1250.1 1287.3,1250.2 1291.3,1250.2 1295.3,1250.3 1299.3,1250.3 1303.3,1250.4 1307.3,1250.4 1311.3,1250.4 1315.3,1250.5 1319.2,1250.5 1323.2,1250.6 1327.2,1250.6 1331.2,1250.7 1335.2,1250.7 1339.2,1250.7 1343.2,1250.8 1347.2,1250.8 1351.1,1250.9 1355.1,1250.9 1359.1,1250.9 1363.1,1251.0 1367.1,1251.0 1371.1,1251.0 1375.1,1251.1 1379.1,1251.1 1383.0,1251.1 1387.0,1251.2 1391.0,1251.2 1395.0,1251.2 1399.0,1251.2 1403.0,1251.2 1407.0,1251.3 1411.0,1251.3 1415.0,1251.3 1418.9,1251.4 1422.9,1251.4 1426.9,1251.4 1430.9,1251.4 1434.9,1251.5 1438.9,1251.5 1442.9,1251.5 1446.9,1251.6 1450.8,1251.6 1454.8,1251.6 1458.8,1251.6 1462.8,1251.6 1466.8,1251.7 1470.8,1251.7 1474.8,1251.7 1478.8,1251.7 1482.7,1251.8 1486.7,1251.8 1490.7,1251.8 1494.7,1251.8 1498.7,1251.8 1502.7,1251.9 1506.7,1251.9 1510.7,1251.9 1514.7,1251.9 1518.6,1251.9 1522.6,1251.9 1526.6,1251.9 1530.6,1252.0 1534.6,1252.0 1538.6,1252.0 1542.6,1252.0 1546.6,1252.0 1550.5,1252.0 1554.5,1252.0 1558.5,1252.0 1562.5,1252.1 1566.5,1252.1 1570.5,1252.1 1574.5,1252.1 1578.5,1252.1 1582.4,1252.1 1586.4,1252.1 1590.4,1252.1 1594.4,1252.1 1598.4,1252.1 1602.4,1252.1 1606.4,1252.1 1610.4,1252.1 1614.4,1252.1 1618.3,1252.1 1622.3,1252.2 1626.3,1252.2 1630.3,1252.2 1634.3,1252.2 1638.3,1252.2 1642.3,1252.2 1646.3,1252.2 1650.2,1252.2 1654.2,1252.2 1658.2,1252.2 1662.2,1252.2 1666.2,1252.2 1670.2,1252.2 1674.2,1252.2 1678.2,1252.1 1682.1,1252.1 1686.1,1252.1 1690.1,1252.1 1694.1,1252.1 1698.1,1252.1 1702.1,1252.1 1706.1,1252.1 1710.1,1252.0 1714.1,1252.0 1718.0,1252.0 1722.0,1252.0 1726.0,1251.9 1730.0,1251.9 1734.0,1251.9 1738.0,1251.8 1742.0,1251.8 1746.0,1251.8 1749.9,1251.7 1753.9,1251.7 1757.9,1251.6 1761.9,1251.6 1765.9,1251.6 1769.9,1251.5 1773.9,1251.5 1777.9,1251.5 1781.8,1251.4 1785.8,1251.4 1789.8,1251.4 1793.8,1251.3 1797.8,1251.3 1801.8,1251.3 1805.8,1251.3 1809.8,1251.2 1813.8,1251.2 1817.7,1251.2 1821.7,1251.2 1825.7,1251.2 1829.7,1251.2 1833.7,1251.1 1837.7,1251.1 1841.7,1251.1 1845.7,1251.1 1849.6,1251.1 1853.6,1251.1 1857.6,1251.1 1861.6,1251.1 1865.6,1251.1 1869.6,1251.1 1873.6,1251.1 1877.6,1251.1 1881.5,1251.1 1885.5,1251.1 1889.5,1251.1 1893.5,1251.1 1897.5,1251.1 1901.5,1251.0 1905.5,1251.0 1909.5,1251.0 1913.5,1251.0 1917.4,1250.9 1921.4,1250.9 1925.4,1250.9 1929.4,1250.8 1933.4,1250.8 1937.4,1250.7 1941.4,1250.7 1945.4,1250.6 1949.3,1250.6 1953.3,1250.5 1957.3,1250.4 1961.3,1250.4 1965.3,1250.3 1969.3,1250.2 1973.3,1250.2 1977.3,1250.1 1981.2,1250.0 1985.2,1250.0 1989.2,1249.9 1993.2,1249.8 1997.2,1249.8 2001.2,1249.7 2005.2,1249.6 2009.2,1249.6 2013.2,1249.5 2017.1,1249.5 2021.1,1249.4 2025.1,1249.4 2029.1,1249.4 2033.1,1249.4 2037.1,1249.3 2041.1,1249.3 2045.1,1249.4 2049.0,1249.4 2053.0,1249.4 2057.0,1249.4 2061.0,1249.5 2065.0,1249.6 2069.0,1249.7 2073.0,1249.8 2077.0,1249.9 2080.9,1250.0 2084.9,1250.2 2088.9,1250.3 2092.9,1250.5 2096.9,1250.7 2100.9,1250.8 2104.9,1251.0 2108.9,1251.2 2112.9,1251.3 2116.8,1251.5 2120.8,1251.7 2124.8,1251.8 2128.8,1252.0 2132.8,1252.2 2136.8,1252.3 2140.8,1252.5 2144.8,1252.6 2148.7,1252.8 2152.7,1252.9 2156.7,1253.1 2160.7,1253.2 2164.7,1253.3 2168.7,1253.4 2172.7,1253.5 2176.7,1253.6 2180.6,1253.7 2184.6,1253.8 2188.6,1253.8 2192.6,1253.9 2196.6,1253.9" marker-start="url(#m11)" marker-mid="url(#m11)" marker-end="url(#m11)"/>
<polyline points="1000.2,1210.0 1004.2,1211.5 1008.2,1213.0 1012.2,1214.4 1016.2,1215.6 1020.1,1216.8 1024.1,1217.9 1028.1,1218.9 1032.1,1220.0 1036.1,1221.0 1040.1,1222.0 1044.1,1223.0 1048.1,1224.0 1052.0,1224.9 1056.0,1225.7 1060.0,1226.5 1064.0,1227.3 1068.0,1228.0 1072.0,1228.7 1076.0,1229.4 1080.0,1230.0 1083.9,1230.7 1087.9,1231.2 1091.9,1231.8 1095.9,1232.3 1099.9,1232.8 1103.9,1233.2 1107.9,1233.7 1111.9,1234.2 1115.9,1234.6 1119.8,1235.0 1123.8,1235.5 1127.8,1235.9 1131.8,1236.3 1135.8,1236.7 1139.8,1237.1 1143.8,1237.5 1147.8,1237.9 1151.7,1238.3 1155.7,1238.6 1159.7,1239.0 1163.7,1239.3 1167.7,1239.6 1171.7,1239.9 1175.7,1240.1 1179.7,1240.4 1183.6,1240.6 1187.6,1240.8 1191.6,1241.0 1195.6,1241.1 1199.6,1241.2 1203.6,1241.3 1207.6,1241.4 1211.6,1241.5 1215.6,1241.6 1219.5,1241.7 1223.5,1241.8 1227.5,1241.9 1231.5,1242.0 1235.5,1242.1 1239.5,1242.2 1243.5,1242.2 1247.5,1242.3 1251.4,1242.4 1255.4,1242.5 1259.4,1242.5 1263.4,1242.6 1267.4,1242.7 1271.4,1242.7 1275.4,1242.8 1279.4,1242.8 1283.3,1242.9 1287.3,1243.0 1291.3,1243.0 1295.3,1243.1 1299.3,1243.1 1303.3,1243.2 1307.3,1243.2 1311.3,1243.3 1315.3,1243.3 1319.2,1243.3 1323.2,1243.4 1327.2,1243.4 1331.2,1243.5 1335.2,1243.5 1339.2,1243.6 1343.2,1243.6 1347.2,1243.7 1351.1,1243.7 1355.1,1243.7 1359.1,1243.8 1363.1,1243.8 1367.1,1243.9 1371.1,1243.9 1375.1,1244.0 1379.1,1244.0 1383.0,1244.1 1387.0,1244.1 1391.0,1244.2 1395.0,1244.2 1399.0,1244.2 1403.0,1244.3 1407.0,1244.3 1411.0,1244.4 1415.0,1244.4 1418.9,1244.5 1422.9,1244.5 1426.9,1244.6 1430.9,1244.6 1434.9,1244.7 1438.9,1244.7 1442.9,1244.8 1446.9,1244.8 1450.8,1244.9 1454.8,1244.9 1458.8,1245.0 1462.8,1245.0 1466.8,1245.1 1470.8,1245.1 1474.8,1245.2 1478.8,1245.2 1482.7,1245.3 1486.7,1245.3 1490.7,1245.4 1494.7,1245.4 1498.7,1245.5 1502.7,1245.5 1506.7,1245.6 1510.7,1245.6 1514.7,1245.7 1518.6,1245.7 1522.6,1245.8 1526.6,1245.8 1530.6,1245.8 1534.6,1245.9 1538.6,1245.9 1542.6,1246.0 1546.6,1246.0 1550.5,1246.1 1554.5,1246.1 1558.5,1246.1 1562.5,1246.2 1566.5,1246.2 1570.5,1246.3 1574.5,1246.3 1578.5,1246.4 1582.4,1246.4 1586.4,1246.4 1590.4,1246.5 1594.4,1246.5 1598.4,1246.5 1602.4,1246.6 1606.4,1246.6 1610.4,1246.6 1614.4,1246.7 1618.3,1246.7 1622.3,1246.8 1626.3,1246.8 1630.3,1246.8 1634.3,1246.8 1638.3,1246.9 1642.3,1246.9 1646.3,1246.9 1650.2,1247.0 1654.2,1247.0 1658.2,1247.0 1662.2,1247.0 1666.2,1247.1 1670.2,1247.1 1674.2,1247.1 1678.2,1247.1 1682.1,1247.1 1686.1,1247.2 1690.1,1247.2 1694.1,1247.2 1698.1,1247.2 1702.1,1247.2 1706.1,1247.2 1710.1,1247.2 1714.1,1247.2 1718.0,1247.2 1722.0,1247.2 1726.0,1247.2 1730.0,1247.2 1734.0,1247.2 1738.0,1247.2 1742.0,1247.2 1746.0,1247.2 1749.9,1247.1 1753.9,1247.1 1757.9,1247.1 1761.9,1247.1 1765.9,1247.1 1769.9,1247.0 1773.9,1247.0 1777.9,1247.0 1781.8,1247.0 1785.8,1247.0 1789.8,1247.0 1793.8,1247.0 1797.8,1246.9 1801.8,1246.9 1805.8,1246.9 1809.8,1246.9 1813.8,1246.9 1817.7,1246.9 1821.7,1246.9 1825.7,1246.9 1829.7,1246.9 1833.7,1246.9 1837.7,1246.9 1841.7,1246.9 1845.7,1246.9 1849.6,1246.9 1853.6,1246.9 1857.6,1246.9 1861.6,1246.9 1865.6,1246.9 1869.6,1246.9 1873.6,1246.9 1877.6,1246.9 1881.5,1246.9 1885.5,1246.9 1889.5,1246.9 1893.5,1246.9 1897.5,1246.8 1901.5,1246.8 1905.5,1246.8 1909.5,1246.8 1913.5,1246.8 1917.4,1246.8 1921.4,1246.8 1925.4,1246.7 1929.4,1246.7 1933.4,1246.7 1937.4,1246.6 1941.4,1246.6 1945.4,1246.6 1949.3,1246.5 1953.3,1246.5 1957.3,1246.5 1961.3,1246.4 1965.3,1246.4 1969.3,1246.3 1973.3,1246.3 1977.3,1246.3 1981.2,1246.2 1985.2,1246.2 1989.2,1246.1 1993.2,1246.1 1997.2,1246.0 2001.2,1246.0 2005.2,1246.0 2009.2,1245.9 2013.2,1245.9 2017.1,1245.9 2021.1,1245.9 2025.1,1245.9 2029.1,1245.8 2033.1,1245.8 2037.1,1245.8 2041.1,1245.8 2045.1,1245.8 2049.0,1245.9 2053.0,1245.9 2057.0,1245.9 2061.0,1246.0 2065.0,1246.0 2069.0,1246.1 2073.0,1246.2 2077.0,1246.3 2080.9,1246.4 2084.9,1246.5 2088.9,1246.6 2092.9,1246.8 2096.9,1246.9 2100.9,1247.0 2104.9,1247.1 2108.9,1247.3 2112.9,1247.4 2116.8,1247.5 2120.8,1247.6 2124.8,1247.8 2128.8,1247.9 2132.8,1248.0 2136.8,1248.1 2140.8,1248.3 2144.8,1248.4 2148.7,1248.5 2152.7,1248.6 2156.7,1248.7 2160.7,1248.8 2164.7,1248.9 2168.7,1248.9 2172.7,1249.0 2176.7,1249.1 2180.6,1249.1 2184.6,1249.2 2188.6,1249.2 2192.6,1249.3 2196.6,1249.3" marker-start="url(#m12)" marker-mid="url(#m12)" marker-end="url(#m12)"/>
<polyline points="1000.2,1232.0 1004.2,1233.1 1008.2,1234.1 1012.2,1235.1 1016.2,1235.9 1020.1,1236.8 1024.1,1237.5 1028.1,1238.3 1032.1,1239.0 1036.1,1239.7 1040.1,1240.5 1044.1,1241.2 1048.1,1241.8 1052.0,1242.5 1056.0,1243.1 1060.0,1243.6 1064.0,1244.2 1068.0,1244.7 1072.0,1245.2 1076.0,1245.6 1080.0,1246.1 1083.9,1246.5 1087.9,1246.9 1091.9,1247.3 1095.9,1247.7 1099.9,1248.0 1103.9,1248.4 1107.9,1248.7 1111.9,1249.0 1115.9,1249.3 1119.8,1249.6 1123.8,1249.9 1127.8,1250.3 1131.8,1250.6 1135.8,1250.9 1139.8,1251.1 1143.8,1251.4 1147.8,1251.7 1151.7,1252.0 1155.7,1252.2 1159.7,1252.4 1163.7,1252.7 1167.7,1252.9 1171.7,1253.1 1175.7,1253.3 1179.7,1253.4 1183.6,1253.6 1187.6,1253.7 1191.6,1253.8 1195.6,1253.9 1199.6,1254.0 1203.6,1254.0 1207.6,1254.1 1211.6,1254.2 1215.6,1254.2 1219.5,1254.3 1223.5,1254.3 1227.5,1254.4 1231.5,1254.4 1235.5,1254.5 1239.5,1254.5 1243.5,1254.5 1247.5,1254.6 1251.4,1254.6 1255.4,1254.7 1259.4,1254.7 1263.4,1254.7 1267.4,1254.8 1271.4,1254.8 1275.4,1254.8 1279.4,1254.9 1283.3,1254.9 1287.3,1254.9 1291.3,1254.9 1295.3,1255.0 1299.3,1255.0 1303.3,1255.0 1307.3,1255.1 1311.3,1255.1 1315.3,1255.1 1319.2,1255.1 1323.2,1255.1 1327.2,1255.2 1331.2,1255.2 1335.2,1255.2 1339.2,1255.2 1343.2,1255.3 1347.2,1255.3 1351.1,1255.3 1355.1,1255.3 1359.1,1255.3 1363.1,1255.4 1367.1,1255.4 1371.1,1255.4 1375.1,1255.4 1379.1,1255.5 1383.0,1255.5 1387.0,1255.5 1391.0,1255.5 1395.0,1255.5 1399.0,1255.5 1403.0,1255.5 1407.0,1255.6 1411.0,1255.6 1415.0,1255.6 1418.9,1255.6 1422.9,1255.7 1426.9,1255.7 1430.9,1255.7 1434.9,1255.7 1438.9,1255.7 1442.9,1255.8 1446.9,1255.8 1450.8,1255.8 1454.8,1255.8 1458.8,1255.9 1462.8,1255.9 1466.8,1255.9 1470.8,1255.9 1474.8,1255.9 1478.8,1256.0 1482.7,1256.0 1486.7,1256.0 1490.7,1256.0 1494.7,1256.0 1498.7,1256.0 1502.7,1256.1 1506.7,1256.1 1510.7,1256.1 1514.7,1256.1 1518.6,1256.1 1522.6,1256.1 1526.6,1256.2 1530.6,1256.2 1534.6,1256.2 1538.6,1256.2 1542.6,1256.2 1546.6,1256.2 1550.5,1256.2 1554.5,1256.3 1558.5,1256.3 1562.5,1256.3 1566.5,1256.3 1570.5,1256.3 1574.5,1256.3 1578.5,1256.3 1582.4,1256.3 1586.4,1256.3 1590.4,1256.4 1594.4,1256.4 1598.4,1256.4 1602.4,1256.4 1606.4,1256.4 1610.4,1256.4 1614.4,1256.4 1618.3,1256.4 1622.3,1256.4 1626.3,1256.4 1630.3,1256.4 1634.3,1256.4 1638.3,1256.4 1642.3,1256.4 1646.3,1256.4 1650.2,1256.4 1654.2,1256.4 1658.2,1256.4 1662.2,1256.4 1666.2,1256.4 1670.2,1256.4 1674.2,1256.4 1678.2,1256.4 1682.1,1256.4 1686.1,1256.4 1690.1,1256.4 1694.1,1256.4 1698.1,1256.4 1702.1,1256.3 1706.1,1256.3 1710.1,1256.3 1714.1,1256.3 1718.0,1256.3 1722.0,1256.2 1726.0,1256.2 1730.0,1256.2 1734.0,1256.1 1738.0,1256.1 1742.0,1256.1 1746.0,1256.0 1749.9,1256.0 1753.9,1255.9 1757.9,1255.9 1761.9,1255.9 1765.9,1255.8 1769.9,1255.8 1773.9,1255.7 1777.9,1255.7 1781.8,1255.7 1785.8,1255.6 1789.8,1255.6 1793.8,1255.6 1797.8,1255.5 1801.8,1255.5 1805.8,1255.5 1809.8,1255.5 1813.8,1255.4 1817.7,1255.4 1821.7,1255.4 1825.7,1255.4 1829.7,1255.4 1833.7,1255.4 1837.7,1255.3 1841.7,1255.3 1845.7,1255.3 1849.6,1255.3 1853.6,1255.3 1857.6,1255.3 1861.6,1255.3 1865.6,1255.3 1869.6,1255.3 1873.6,1255.3 1877.6,1255.2 1881.5,1255.2 1885.5,1255.2 1889.5,1255.2 1893.5,1255.2 1897.5,1255.2 1901.5,1255.1 1905.5,1255.1 1909.5,1255.1 1913.5,1255.1 1917.4,1255.0 1921.4,1255.0 1925.4,1255.0 1929.4,1254.9 1933.4,1254.9 1937.4,1254.8 1941.4,1254.8 1945.4,1254.7 1949.3,1254.7 1953.3,1254.6 1957.3,1254.6 1961.3,1254.5 1965.3,1254.4 1969.3,1254.4 1973.3,1254.3 1977.3,1254.2 1981.2,1254.2 1985.2,1254.1 1989.2,1254.0 1993.2,1254.0 1997.2,1253.9 2001.2,1253.9 2005.2,1253.8 2009.2,1253.8 2013.2,1253.7 2017.1,1253.7 2021.1,1253.6 2025.1,1253.6 2029.1,1253.6 2033.1,1253.5 2037.1,1253.5 2041.1,1253.5 2045.1,1253.5 2049.0,1253.5 2053.0,1253.5 2057.0,1253.5 2061.0,1253.6 2065.0,1253.6 2069.0,1253.7 2073.0,1253.8 2077.0,1253.9 2080.9,1254.0 2084.9,1254.1 2088.9,1254.2 2092.9,1254.3 2096.9,1254.4 2100.9,1254.6 2104.9,1254.7 2108.9,1254.8 2112.9,1254.9 2116.8,1255.1 2120.8,1255.2 2124.8,1255.3 2128.8,1255.4 2132.8,1255.5 2136.8,1255.7 2140.8,1255.8 2144.8,1255.9 2148.7,1256.0 2152.7,1256.1 2156.7,1256.2 2160.7,1256.3 2164.7,1256.4 2168.7,1256.5 2172.7,1256.5 2176.7,1256.6 2180.6,1256.7 2184.6,1256.7 2188.6,1256.8 2192.6,1256.8 2196.6,1256.9" marker-start="url(#m13)" marker-mid="url(#m13)" marker-end="url(#m13)"/>
</g>
<path d="M980 1263.7H1000.0M980 1104.3H1000.0M980 944.9H1000.0M980 785.5H1000.0M980 626.1H1000.0M980 466.7H1000.0M1000.2 1263.2V1282.5M1199.6 1263.2V1282.5M1399.0 1263.2V1282.5M1598.4 1263.2V1282.5M1797.8 1263.2V1282.5M1997.2 1263.2V1282.5M2196.6 1263.2V1282.5" stroke="#000" stroke-width="9.5" fill="none"/>
<text x="970" y="1275.2" font-size="39" text-anchor="end" letter-spacing="0.7">0.0</text>
<text x="970" y="1115.8" font-size="39" text-anchor="end" letter-spacing="0.7">0.1</text>
<text x="970" y="956.4" font-size="39" text-anchor="end" letter-spacing="0.7">0.2</text>
<text x="970" y="797.0" font-size="39" text-anchor="end" letter-spacing="0.7">0.3</text>
<text x="970" y="637.6" font-size="39" text-anchor="end" letter-spacing="0.7">0.4</text>
<text x="970" y="478.2" font-size="39" text-anchor="end" letter-spacing="0.7">0.5</text>
<text x="999.6" y="1320" font-size="39" text-anchor="middle" letter-spacing="0.3">400</text>
<text x="1199.0" y="1320" font-size="39" text-anchor="middle" letter-spacing="0.3">450</text>
<text x="1398.4" y="1320" font-size="39" text-anchor="middle" letter-spacing="0.3">500</text>
<text x="1597.8" y="1320" font-size="39" text-anchor="middle" letter-spacing="0.3">550</text>
<text x="1797.2" y="1320" font-size="39" text-anchor="middle" letter-spacing="0.3">600</text>
<text x="1996.6" y="1320" font-size="39" text-anchor="middle" letter-spacing="0.3">650</text>
<text x="2196.0" y="1320" font-size="39" text-anchor="middle" letter-spacing="0.3">700</text>
<text x="1504" y="1373.5" font-size="38" letter-spacing="3.3">Time (min)</text>
<text transform="translate(900.5 977.5) rotate(-90)" font-size="46.5" textLength="248" lengthAdjust="spacingAndGlyphs">Absorbance</text>
<path d="M1018.8 407H1604.2V1161" fill="none" stroke="#dedede" stroke-width="4"/>
<path d="M1020.5 405.9V1161H1606.1" fill="none" stroke="#adadad" stroke-width="3.5"/>
<line x1="1033" y1="450.3" x2="1125.5" y2="450.3" stroke="#a0a0a0" stroke-width="3.6"/>
<rect x="1070.2" y="442.8" width="19" height="15" rx="2" fill="#000"/>
<text x="1138" y="464.6" font-size="44.4">Stock Methylene Blue</text>
<line x1="1033" y1="503.3" x2="1125.5" y2="503.3" stroke="#ffc4c8" stroke-width="3.6"/>
<ellipse cx="1079.7" cy="503.3" rx="10.5" ry="9.2" fill="#ff0000"/>
<text x="1138" y="517.6" font-size="44.4">5 min</text>
<line x1="1033" y1="556.2" x2="1125.5" y2="556.2" stroke="#d0d0ff" stroke-width="3.6"/>
<polygon points="1069.2,563.2 1090.2,563.2 1079.7,544.2" fill="#0000ff"/>
<text x="1138" y="570.5" font-size="44.4">15 min</text>
<line x1="1033" y1="609.2" x2="1125.5" y2="609.2" stroke="#90d0d0" stroke-width="3.6"/>
<polygon points="1069.2,603.2 1090.2,603.2 1079.7,622.2" fill="#008080"/>
<text x="1138" y="623.5" font-size="44.4">25 min</text>
<line x1="1033" y1="662.2" x2="1125.5" y2="662.2" stroke="#ffc8ff" stroke-width="3.6"/>
<polygon points="1086.7,652.2 1086.7,672.2 1067.7,662.2" fill="#ff00ff"/>
<text x="1138" y="676.5" font-size="44.4">35 min</text>
<line x1="1033" y1="715.2" x2="1125.5" y2="715.2" stroke="#e4e4c8" stroke-width="3.6"/>
<polygon points="1073.7,705.2 1073.7,725.2 1092.7,715.2" fill="#808000"/>
<text x="1138" y="729.5" font-size="44.4">45 min</text>
<line x1="1033" y1="768.1" x2="1125.5" y2="768.1" stroke="#b4b4e0" stroke-width="3.6"/>
<polygon points="1069.2,768.1 1079.7,758.1 1090.2,768.1 1079.7,778.1" fill="#000080"/>
<text x="1138" y="782.4" font-size="44.4">55 min</text>
<path d="M1033 821.1H1063.7M1095.7 821.1H1125.5" stroke="#f6e8e8" stroke-width="3.6" fill="none"/>
<polygon points="1079.7,831.1 1070.6,826.1 1070.6,816.1 1079.7,811.1 1088.8,816.1 1088.8,826.1" fill="#900000"/>
<text x="1138" y="835.4" font-size="44.4">65 min</text>
<line x1="1033" y1="874.1" x2="1125.5" y2="874.1" stroke="#ffd0d8" stroke-width="3.6"/>
<ellipse cx="1079.7" cy="874.1" rx="10.5" ry="9.2" fill="#ff0028"/>
<text x="1138" y="888.4" font-size="44.4">75 min</text>
<line x1="1033" y1="927.0" x2="1125.5" y2="927.0" stroke="#80c898" stroke-width="3.6"/>
<polygon points="1079.7,917.0 1082.6,924.0 1090.2,924.6 1084.5,929.6 1086.2,936.9 1079.7,933.0 1073.2,936.9 1074.9,929.6 1069.2,924.6 1076.8,924.0" fill="#008028"/>
<text x="1138" y="941.3" font-size="44.4">85 min</text>
<path d="M1033 980.0H1063.7M1095.7 980.0H1125.5" stroke="#e8e8f6" stroke-width="3.6" fill="none"/>
<ellipse cx="1079.7" cy="980.0" rx="10" ry="9" fill="#000090"/>
<path d="M1078.7 979.0L1078.7 974.0A5 5 0 0 0 1073.7 979.0Z" fill="#8090d0"/>
<text x="1138" y="994.3" font-size="44.4">95 min</text>
<line x1="1033" y1="1033.0" x2="1125.5" y2="1033.0" stroke="#ffb4a4" stroke-width="3.6"/>
<rect x="1070.2" y="1025.5" width="19" height="15" rx="2" fill="#ff4020"/>
<text x="1138" y="1047.3" font-size="44.4">105 min</text>
<line x1="1033" y1="1085.9" x2="1125.5" y2="1085.9" stroke="#e4b4e0" stroke-width="3.6"/>
<polygon points="1090.2,1085.9 1085.0,1094.6 1074.5,1094.6 1069.2,1085.9 1074.5,1077.3 1085.0,1077.3" fill="#96008c"/>
<text x="1138" y="1100.2" font-size="44.4">115 min</text>
<line x1="1033" y1="1138.9" x2="1125.5" y2="1138.9" stroke="#f6e0f2" stroke-width="3.6"/>
<polygon points="1069.2,1145.9 1090.2,1145.9 1079.7,1126.9" fill="#96008c"/>
<text x="1138" y="1153.2" font-size="44.4">125 min</text>
</g>
</svg>
</body></html>
